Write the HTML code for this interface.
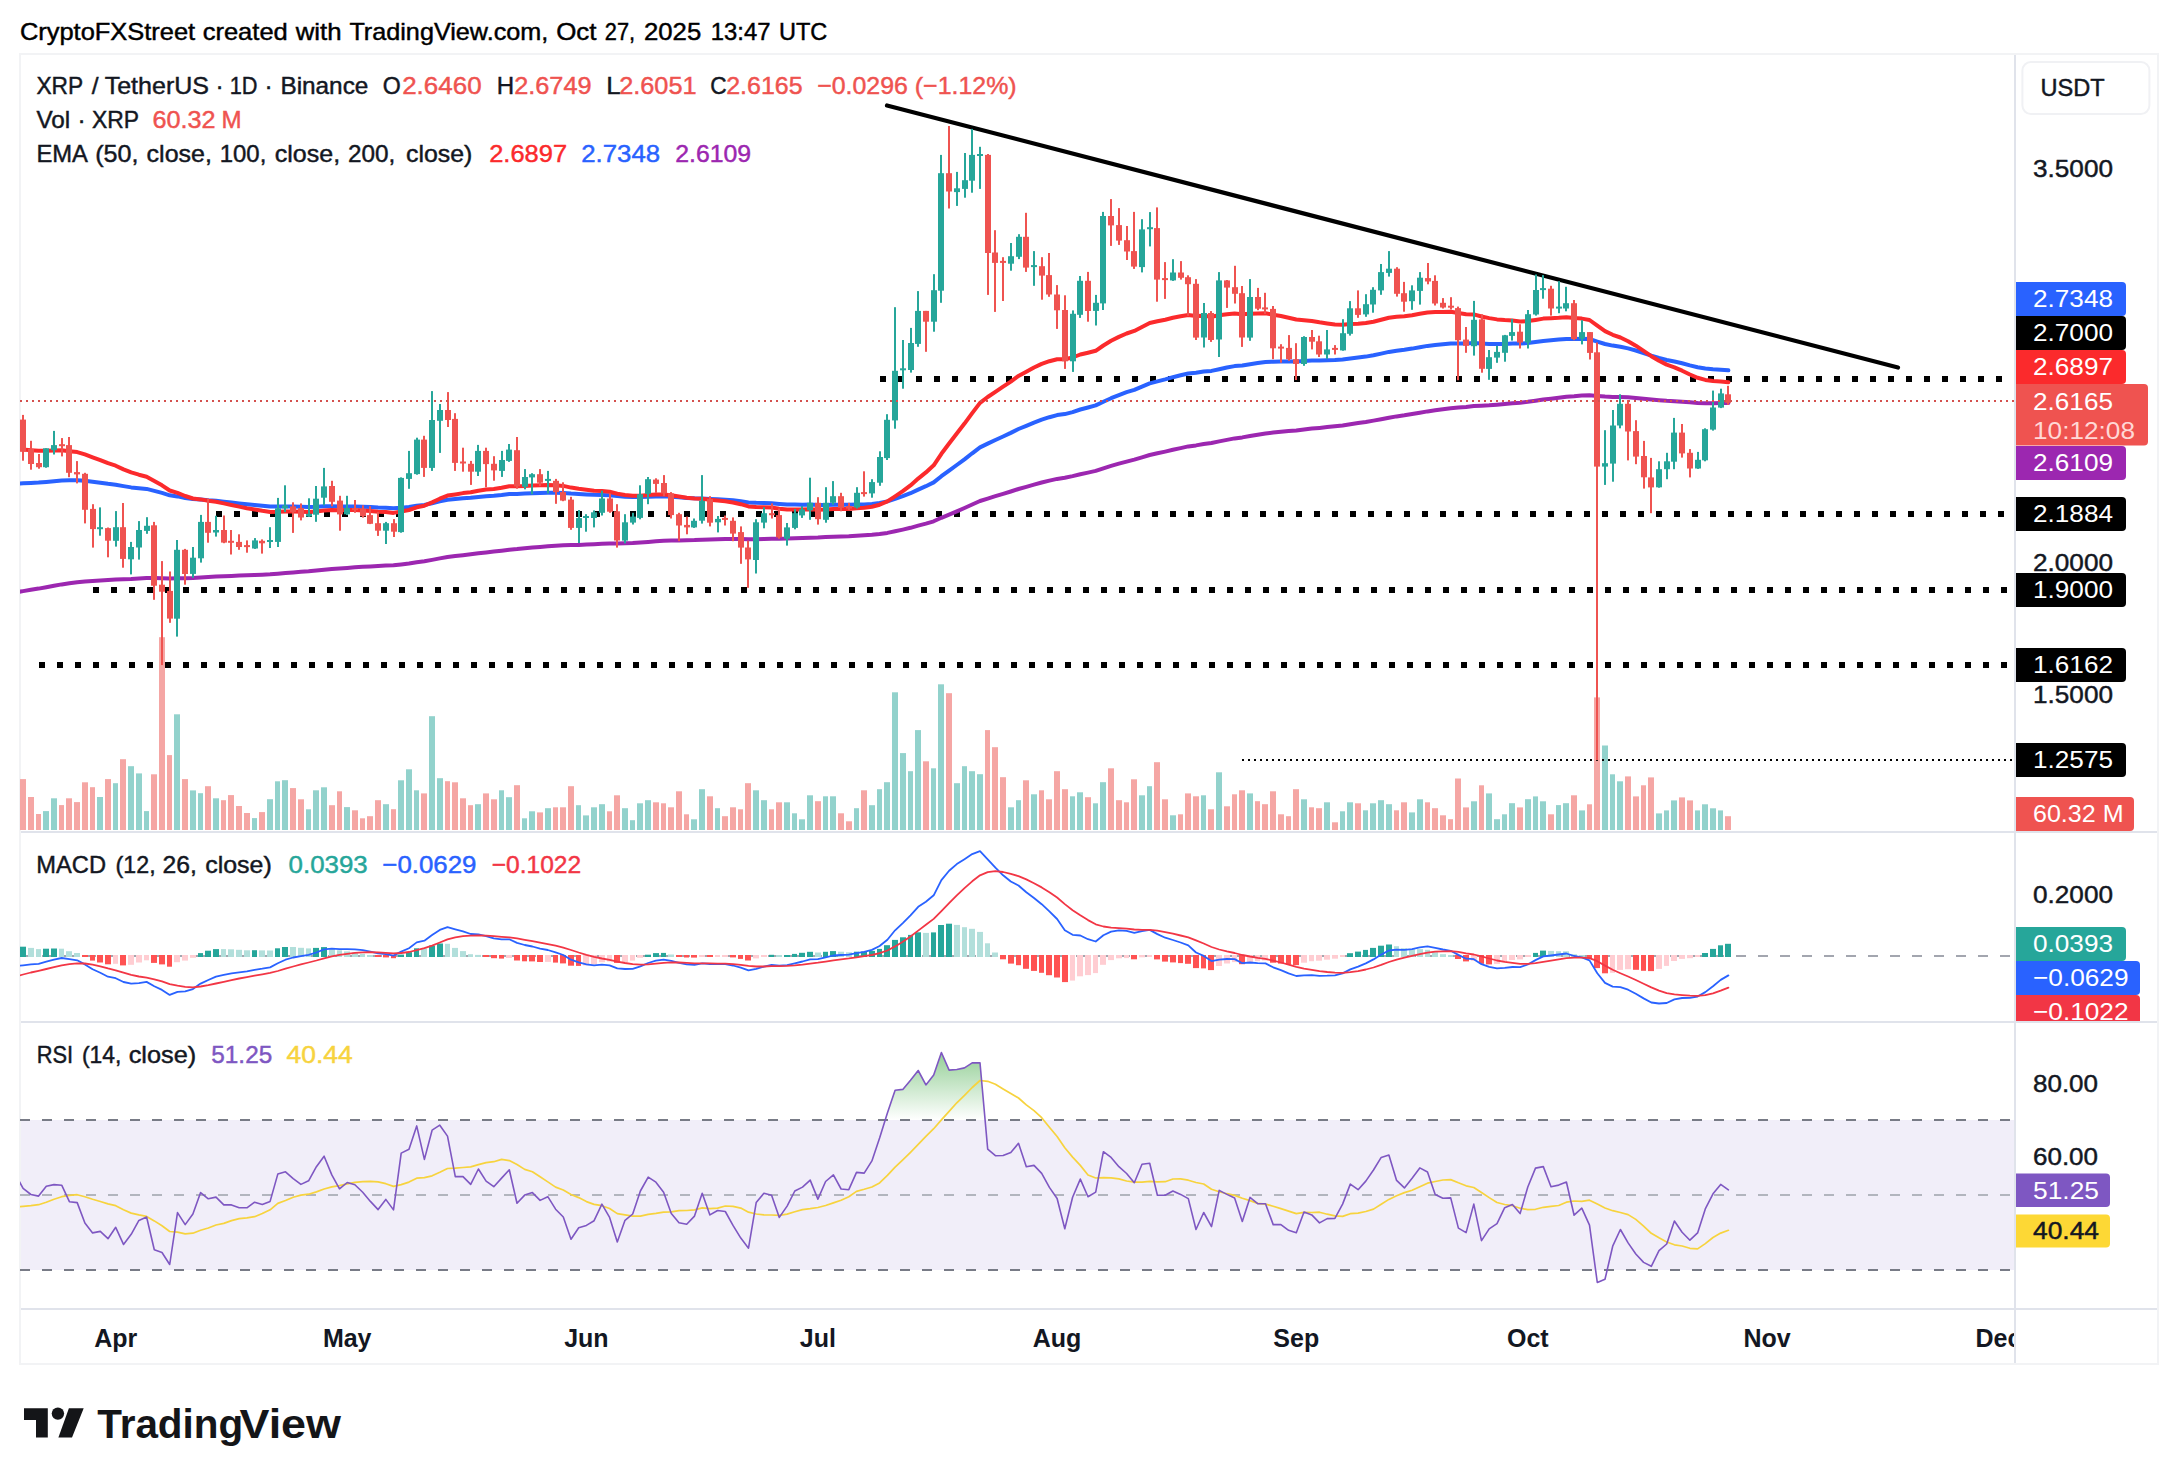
<!DOCTYPE html>
<html><head><meta charset="utf-8"><title>XRP / TetherUS chart</title>
<style>html,body{margin:0;padding:0;background:#fff;}body{width:2178px;height:1484px;overflow:hidden;font-family:'Liberation Sans', sans-serif;}</style>
</head><body>
<svg width="2178" height="1484" viewBox="0 0 2178 1484" font-family="'Liberation Sans', sans-serif" style="display:block"><rect x="0" y="0" width="2178" height="1484" fill="#fff"/>
<defs>
<clipPath id="cm"><rect x="20" y="55" width="1994" height="776"/></clipPath>
<clipPath id="cmacd"><rect x="20" y="833" width="1994" height="188"/></clipPath>
<clipPath id="crsi"><rect x="20" y="1023" width="1994" height="285"/></clipPath>
<clipPath id="ctime"><rect x="21" y="1310" width="1993" height="53"/></clipPath>
<clipPath id="cax2"><rect x="2015" y="833" width="143" height="188"/></clipPath>
<clipPath id="c70"><rect x="21" y="1023" width="1993" height="97"/></clipPath>
<linearGradient id="gob" gradientUnits="userSpaceOnUse" x1="0" y1="1007.5" x2="0" y2="1120"><stop offset="0" stop-color="#4caf50" stop-opacity="1"/><stop offset="1" stop-color="#4caf50" stop-opacity="0"/></linearGradient>
</defs>
<rect x="20" y="54" width="2138" height="1310" fill="none" stroke="#f2f3f5" stroke-width="2"/>
<rect x="21" y="1120" width="1993" height="150" fill="#f1eef9"/>
<g clip-path="url(#cm)">
<rect x="20" y="779.1" width="6" height="50.9" fill="#f5a6a4"/>
<rect x="28" y="797.0" width="6" height="33.0" fill="#f5a6a4"/>
<rect x="36" y="814.0" width="5" height="16.0" fill="#f5a6a4"/>
<rect x="43" y="811.1" width="6" height="18.9" fill="#92d2cc"/>
<rect x="51" y="798.3" width="6" height="31.7" fill="#92d2cc"/>
<rect x="59" y="805.1" width="5" height="24.9" fill="#f5a6a4"/>
<rect x="66" y="798.3" width="6" height="31.7" fill="#f5a6a4"/>
<rect x="74" y="802.1" width="6" height="27.9" fill="#f5a6a4"/>
<rect x="82" y="782.3" width="6" height="47.7" fill="#f5a6a4"/>
<rect x="90" y="787.2" width="5" height="42.8" fill="#f5a6a4"/>
<rect x="97" y="797.0" width="6" height="33.0" fill="#92d2cc"/>
<rect x="105" y="779.1" width="6" height="50.9" fill="#f5a6a4"/>
<rect x="113" y="783.2" width="5" height="46.8" fill="#92d2cc"/>
<rect x="120" y="759.2" width="6" height="70.8" fill="#f5a6a4"/>
<rect x="128" y="766.2" width="6" height="63.8" fill="#92d2cc"/>
<rect x="136" y="773.4" width="6" height="56.6" fill="#92d2cc"/>
<rect x="144" y="811.1" width="5" height="18.9" fill="#92d2cc"/>
<rect x="151" y="774.3" width="6" height="55.7" fill="#f5a6a4"/>
<rect x="159" y="637.2" width="6" height="192.8" fill="#f5a6a4"/>
<rect x="167" y="755.1" width="5" height="74.9" fill="#f5a6a4"/>
<rect x="174" y="714.3" width="6" height="115.7" fill="#92d2cc"/>
<rect x="182" y="779.1" width="6" height="50.9" fill="#f5a6a4"/>
<rect x="190" y="790.4" width="6" height="39.6" fill="#92d2cc"/>
<rect x="198" y="793.2" width="5" height="36.8" fill="#92d2cc"/>
<rect x="205" y="786.2" width="6" height="43.8" fill="#f5a6a4"/>
<rect x="213" y="798.3" width="6" height="31.7" fill="#92d2cc"/>
<rect x="221" y="800.2" width="5" height="29.8" fill="#f5a6a4"/>
<rect x="228" y="795.1" width="6" height="34.9" fill="#f5a6a4"/>
<rect x="236" y="806.0" width="6" height="24.0" fill="#f5a6a4"/>
<rect x="244" y="813.0" width="6" height="17.0" fill="#f5a6a4"/>
<rect x="252" y="818.1" width="5" height="11.9" fill="#92d2cc"/>
<rect x="259" y="812.1" width="6" height="17.9" fill="#f5a6a4"/>
<rect x="267" y="799.2" width="6" height="30.8" fill="#92d2cc"/>
<rect x="275" y="781.3" width="5" height="48.7" fill="#92d2cc"/>
<rect x="282" y="780.2" width="6" height="49.8" fill="#92d2cc"/>
<rect x="290" y="788.1" width="6" height="41.9" fill="#f5a6a4"/>
<rect x="298" y="799.3" width="6" height="30.7" fill="#f5a6a4"/>
<rect x="306" y="809.3" width="5" height="20.7" fill="#92d2cc"/>
<rect x="313" y="790.3" width="6" height="39.7" fill="#92d2cc"/>
<rect x="321" y="787.3" width="6" height="42.7" fill="#92d2cc"/>
<rect x="329" y="805.2" width="6" height="24.8" fill="#f5a6a4"/>
<rect x="337" y="791.3" width="5" height="38.7" fill="#f5a6a4"/>
<rect x="344" y="807.1" width="6" height="22.9" fill="#92d2cc"/>
<rect x="352" y="810.3" width="6" height="19.7" fill="#f5a6a4"/>
<rect x="360" y="818.3" width="5" height="11.7" fill="#f5a6a4"/>
<rect x="367" y="816.2" width="6" height="13.8" fill="#f5a6a4"/>
<rect x="375" y="800.2" width="6" height="29.8" fill="#f5a6a4"/>
<rect x="383" y="804.2" width="6" height="25.8" fill="#92d2cc"/>
<rect x="391" y="809.2" width="5" height="20.8" fill="#f5a6a4"/>
<rect x="398" y="780.3" width="6" height="49.7" fill="#92d2cc"/>
<rect x="406" y="769.3" width="6" height="60.7" fill="#92d2cc"/>
<rect x="414" y="790.3" width="5" height="39.7" fill="#92d2cc"/>
<rect x="421" y="793.4" width="6" height="36.6" fill="#f5a6a4"/>
<rect x="429" y="716.2" width="6" height="113.8" fill="#92d2cc"/>
<rect x="437" y="778.2" width="6" height="51.8" fill="#92d2cc"/>
<rect x="445" y="781.2" width="5" height="48.8" fill="#f5a6a4"/>
<rect x="452" y="782.3" width="6" height="47.7" fill="#f5a6a4"/>
<rect x="460" y="798.3" width="6" height="31.7" fill="#f5a6a4"/>
<rect x="468" y="805.2" width="5" height="24.8" fill="#f5a6a4"/>
<rect x="475" y="804.2" width="6" height="25.8" fill="#92d2cc"/>
<rect x="483" y="793.4" width="6" height="36.6" fill="#f5a6a4"/>
<rect x="491" y="799.3" width="6" height="30.7" fill="#f5a6a4"/>
<rect x="499" y="790.3" width="5" height="39.7" fill="#92d2cc"/>
<rect x="506" y="797.2" width="6" height="32.8" fill="#92d2cc"/>
<rect x="514" y="785.2" width="6" height="44.8" fill="#f5a6a4"/>
<rect x="522" y="818.3" width="5" height="11.7" fill="#92d2cc"/>
<rect x="529" y="811.3" width="6" height="18.7" fill="#92d2cc"/>
<rect x="537" y="812.4" width="6" height="17.6" fill="#f5a6a4"/>
<rect x="545" y="808.2" width="6" height="21.8" fill="#92d2cc"/>
<rect x="553" y="807.3" width="5" height="22.7" fill="#f5a6a4"/>
<rect x="560" y="807.3" width="6" height="22.7" fill="#f5a6a4"/>
<rect x="568" y="786.2" width="6" height="43.8" fill="#f5a6a4"/>
<rect x="576" y="805.2" width="5" height="24.8" fill="#92d2cc"/>
<rect x="583" y="815.4" width="6" height="14.6" fill="#92d2cc"/>
<rect x="591" y="807.3" width="6" height="22.7" fill="#92d2cc"/>
<rect x="599" y="804.2" width="6" height="25.8" fill="#92d2cc"/>
<rect x="607" y="811.3" width="5" height="18.7" fill="#f5a6a4"/>
<rect x="614" y="795.3" width="6" height="34.7" fill="#f5a6a4"/>
<rect x="622" y="808.2" width="6" height="21.8" fill="#92d2cc"/>
<rect x="630" y="820.2" width="5" height="9.8" fill="#92d2cc"/>
<rect x="637" y="803.3" width="6" height="26.7" fill="#92d2cc"/>
<rect x="645" y="800.2" width="6" height="29.8" fill="#92d2cc"/>
<rect x="653" y="802.3" width="6" height="27.7" fill="#f5a6a4"/>
<rect x="661" y="803.3" width="5" height="26.7" fill="#f5a6a4"/>
<rect x="668" y="807.3" width="6" height="22.7" fill="#f5a6a4"/>
<rect x="676" y="791.3" width="6" height="38.7" fill="#f5a6a4"/>
<rect x="684" y="814.3" width="5" height="15.7" fill="#f5a6a4"/>
<rect x="691" y="819.3" width="6" height="10.7" fill="#92d2cc"/>
<rect x="699" y="789.2" width="6" height="40.8" fill="#92d2cc"/>
<rect x="707" y="796.3" width="6" height="33.7" fill="#f5a6a4"/>
<rect x="715" y="808.2" width="5" height="21.8" fill="#92d2cc"/>
<rect x="722" y="816.2" width="6" height="13.8" fill="#f5a6a4"/>
<rect x="730" y="807.3" width="6" height="22.7" fill="#f5a6a4"/>
<rect x="738" y="809.3" width="5" height="20.7" fill="#f5a6a4"/>
<rect x="745" y="783.2" width="6" height="46.8" fill="#f5a6a4"/>
<rect x="753" y="790.3" width="6" height="39.7" fill="#92d2cc"/>
<rect x="761" y="800.2" width="6" height="29.8" fill="#92d2cc"/>
<rect x="769" y="809.3" width="5" height="20.7" fill="#f5a6a4"/>
<rect x="776" y="802.3" width="6" height="27.7" fill="#f5a6a4"/>
<rect x="784" y="802.3" width="6" height="27.7" fill="#92d2cc"/>
<rect x="792" y="813.3" width="5" height="16.7" fill="#92d2cc"/>
<rect x="799" y="819.3" width="6" height="10.7" fill="#92d2cc"/>
<rect x="807" y="795.3" width="6" height="34.7" fill="#92d2cc"/>
<rect x="815" y="801.2" width="6" height="28.8" fill="#f5a6a4"/>
<rect x="823" y="796.3" width="5" height="33.7" fill="#92d2cc"/>
<rect x="830" y="796.3" width="6" height="33.7" fill="#92d2cc"/>
<rect x="838" y="813.3" width="6" height="16.7" fill="#f5a6a4"/>
<rect x="846" y="821.3" width="6" height="8.7" fill="#f5a6a4"/>
<rect x="854" y="808.2" width="5" height="21.8" fill="#92d2cc"/>
<rect x="861" y="790.3" width="6" height="39.7" fill="#f5a6a4"/>
<rect x="869" y="805.2" width="6" height="24.8" fill="#92d2cc"/>
<rect x="877" y="789.2" width="5" height="40.8" fill="#92d2cc"/>
<rect x="884" y="782.2" width="6" height="47.8" fill="#92d2cc"/>
<rect x="892" y="692.3" width="6" height="137.7" fill="#92d2cc"/>
<rect x="900" y="753.1" width="6" height="76.9" fill="#92d2cc"/>
<rect x="908" y="771.2" width="5" height="58.8" fill="#92d2cc"/>
<rect x="915" y="730.1" width="6" height="99.9" fill="#92d2cc"/>
<rect x="923" y="761.3" width="6" height="68.7" fill="#f5a6a4"/>
<rect x="931" y="768.3" width="5" height="61.7" fill="#92d2cc"/>
<rect x="938" y="684.3" width="6" height="145.7" fill="#92d2cc"/>
<rect x="946" y="693.2" width="6" height="136.8" fill="#f5a6a4"/>
<rect x="954" y="783.2" width="6" height="46.8" fill="#92d2cc"/>
<rect x="962" y="766.2" width="5" height="63.8" fill="#92d2cc"/>
<rect x="969" y="771.2" width="6" height="58.8" fill="#92d2cc"/>
<rect x="977" y="774.2" width="6" height="55.8" fill="#92d2cc"/>
<rect x="985" y="730.1" width="5" height="99.9" fill="#f5a6a4"/>
<rect x="992" y="747.2" width="6" height="82.8" fill="#f5a6a4"/>
<rect x="1000" y="777.2" width="6" height="52.8" fill="#f5a6a4"/>
<rect x="1008" y="807.3" width="6" height="22.7" fill="#92d2cc"/>
<rect x="1016" y="800.2" width="5" height="29.8" fill="#92d2cc"/>
<rect x="1023" y="780.3" width="6" height="49.7" fill="#f5a6a4"/>
<rect x="1031" y="794.3" width="6" height="35.7" fill="#92d2cc"/>
<rect x="1039" y="790.3" width="5" height="39.7" fill="#f5a6a4"/>
<rect x="1046" y="799.3" width="6" height="30.7" fill="#f5a6a4"/>
<rect x="1054" y="771.2" width="6" height="58.8" fill="#f5a6a4"/>
<rect x="1062" y="789.2" width="6" height="40.8" fill="#f5a6a4"/>
<rect x="1070" y="796.3" width="5" height="33.7" fill="#92d2cc"/>
<rect x="1077" y="792.3" width="6" height="37.7" fill="#92d2cc"/>
<rect x="1085" y="797.2" width="6" height="32.8" fill="#f5a6a4"/>
<rect x="1093" y="803.3" width="5" height="26.7" fill="#92d2cc"/>
<rect x="1100" y="782.2" width="6" height="47.8" fill="#92d2cc"/>
<rect x="1108" y="768.3" width="6" height="61.7" fill="#f5a6a4"/>
<rect x="1116" y="800.2" width="6" height="29.8" fill="#f5a6a4"/>
<rect x="1124" y="802.3" width="5" height="27.7" fill="#f5a6a4"/>
<rect x="1131" y="779.3" width="6" height="50.7" fill="#f5a6a4"/>
<rect x="1139" y="795.3" width="6" height="34.7" fill="#92d2cc"/>
<rect x="1147" y="786.2" width="5" height="43.8" fill="#92d2cc"/>
<rect x="1154" y="762.2" width="6" height="67.8" fill="#f5a6a4"/>
<rect x="1162" y="799.3" width="6" height="30.7" fill="#f5a6a4"/>
<rect x="1170" y="815.3" width="6" height="14.7" fill="#92d2cc"/>
<rect x="1178" y="814.3" width="5" height="15.7" fill="#f5a6a4"/>
<rect x="1185" y="793.4" width="6" height="36.6" fill="#f5a6a4"/>
<rect x="1193" y="796.3" width="6" height="33.7" fill="#f5a6a4"/>
<rect x="1201" y="795.3" width="5" height="34.7" fill="#92d2cc"/>
<rect x="1208" y="809.3" width="6" height="20.7" fill="#f5a6a4"/>
<rect x="1216" y="772.3" width="6" height="57.7" fill="#92d2cc"/>
<rect x="1224" y="806.3" width="6" height="23.7" fill="#f5a6a4"/>
<rect x="1232" y="794.3" width="5" height="35.7" fill="#f5a6a4"/>
<rect x="1239" y="790.3" width="6" height="39.7" fill="#f5a6a4"/>
<rect x="1247" y="793.4" width="6" height="36.6" fill="#92d2cc"/>
<rect x="1255" y="801.2" width="5" height="28.8" fill="#f5a6a4"/>
<rect x="1262" y="804.2" width="6" height="25.8" fill="#f5a6a4"/>
<rect x="1270" y="791.3" width="6" height="38.7" fill="#f5a6a4"/>
<rect x="1278" y="814.3" width="6" height="15.7" fill="#f5a6a4"/>
<rect x="1286" y="816.2" width="5" height="13.8" fill="#f5a6a4"/>
<rect x="1293" y="789.2" width="6" height="40.8" fill="#f5a6a4"/>
<rect x="1301" y="799.3" width="6" height="30.7" fill="#92d2cc"/>
<rect x="1309" y="807.3" width="5" height="22.7" fill="#f5a6a4"/>
<rect x="1316" y="808.2" width="6" height="21.8" fill="#f5a6a4"/>
<rect x="1324" y="802.3" width="6" height="27.7" fill="#92d2cc"/>
<rect x="1332" y="822.3" width="6" height="7.7" fill="#f5a6a4"/>
<rect x="1340" y="811.3" width="5" height="18.7" fill="#92d2cc"/>
<rect x="1347" y="802.3" width="6" height="27.7" fill="#92d2cc"/>
<rect x="1355" y="803.3" width="6" height="26.7" fill="#f5a6a4"/>
<rect x="1363" y="810.3" width="5" height="19.7" fill="#92d2cc"/>
<rect x="1370" y="803.3" width="6" height="26.7" fill="#92d2cc"/>
<rect x="1378" y="800.2" width="6" height="29.8" fill="#92d2cc"/>
<rect x="1386" y="804.2" width="6" height="25.8" fill="#92d2cc"/>
<rect x="1394" y="810.3" width="5" height="19.7" fill="#f5a6a4"/>
<rect x="1401" y="802.3" width="6" height="27.7" fill="#f5a6a4"/>
<rect x="1409" y="812.4" width="6" height="17.6" fill="#92d2cc"/>
<rect x="1417" y="799.3" width="6" height="30.7" fill="#92d2cc"/>
<rect x="1425" y="802.3" width="5" height="27.7" fill="#f5a6a4"/>
<rect x="1432" y="808.2" width="6" height="21.8" fill="#f5a6a4"/>
<rect x="1440" y="815.3" width="6" height="14.7" fill="#f5a6a4"/>
<rect x="1448" y="819.2" width="5" height="10.8" fill="#f5a6a4"/>
<rect x="1455" y="778.5" width="6" height="51.5" fill="#f5a6a4"/>
<rect x="1463" y="807.4" width="6" height="22.6" fill="#f5a6a4"/>
<rect x="1471" y="801.3" width="6" height="28.7" fill="#92d2cc"/>
<rect x="1479" y="785.3" width="5" height="44.7" fill="#f5a6a4"/>
<rect x="1486" y="793.4" width="6" height="36.6" fill="#92d2cc"/>
<rect x="1494" y="819.2" width="6" height="10.8" fill="#92d2cc"/>
<rect x="1502" y="814.3" width="5" height="15.7" fill="#92d2cc"/>
<rect x="1509" y="803.2" width="6" height="26.8" fill="#92d2cc"/>
<rect x="1517" y="807.4" width="6" height="22.6" fill="#f5a6a4"/>
<rect x="1525" y="799.2" width="6" height="30.8" fill="#92d2cc"/>
<rect x="1533" y="796.4" width="5" height="33.6" fill="#92d2cc"/>
<rect x="1540" y="801.3" width="6" height="28.7" fill="#92d2cc"/>
<rect x="1548" y="814.3" width="6" height="15.7" fill="#f5a6a4"/>
<rect x="1556" y="805.1" width="5" height="24.9" fill="#92d2cc"/>
<rect x="1563" y="803.2" width="6" height="26.8" fill="#92d2cc"/>
<rect x="1571" y="795.3" width="6" height="34.7" fill="#f5a6a4"/>
<rect x="1579" y="810.4" width="6" height="19.6" fill="#92d2cc"/>
<rect x="1587" y="804.3" width="5" height="25.7" fill="#f5a6a4"/>
<rect x="1594" y="697.4" width="6" height="132.6" fill="#f5a6a4"/>
<rect x="1602" y="745.5" width="6" height="84.5" fill="#92d2cc"/>
<rect x="1610" y="774.3" width="5" height="55.7" fill="#92d2cc"/>
<rect x="1617" y="781.3" width="6" height="48.7" fill="#92d2cc"/>
<rect x="1625" y="776.4" width="6" height="53.6" fill="#f5a6a4"/>
<rect x="1633" y="796.4" width="6" height="33.6" fill="#f5a6a4"/>
<rect x="1641" y="785.3" width="5" height="44.7" fill="#f5a6a4"/>
<rect x="1648" y="777.4" width="6" height="52.6" fill="#f5a6a4"/>
<rect x="1656" y="813.4" width="6" height="16.6" fill="#92d2cc"/>
<rect x="1664" y="810.4" width="5" height="19.6" fill="#92d2cc"/>
<rect x="1671" y="800.4" width="6" height="29.6" fill="#92d2cc"/>
<rect x="1679" y="797.4" width="6" height="32.6" fill="#f5a6a4"/>
<rect x="1687" y="800.4" width="6" height="29.6" fill="#f5a6a4"/>
<rect x="1695" y="810.4" width="5" height="19.6" fill="#92d2cc"/>
<rect x="1702" y="804.3" width="6" height="25.7" fill="#92d2cc"/>
<rect x="1710" y="808.3" width="6" height="21.7" fill="#92d2cc"/>
<rect x="1718" y="810.4" width="5" height="19.6" fill="#92d2cc"/>
<rect x="1725" y="816.2" width="6" height="13.8" fill="#f5a6a4"/>
<line x1="880" y1="379" x2="2008" y2="379" stroke="#000" stroke-width="6" stroke-dasharray="6 12"/>
<line x1="216" y1="514" x2="2008" y2="514" stroke="#000" stroke-width="6" stroke-dasharray="6 12"/>
<line x1="93" y1="590" x2="2008" y2="590" stroke="#000" stroke-width="6" stroke-dasharray="6 12"/>
<line x1="39" y1="665" x2="2008" y2="665" stroke="#000" stroke-width="6" stroke-dasharray="6 12"/>
<line x1="1242" y1="760" x2="2015" y2="760" stroke="#000" stroke-width="2" stroke-dasharray="2 4"/>
<line x1="887" y1="105.5" x2="1898" y2="367.5" stroke="#000" stroke-width="4.2" stroke-linecap="round"/>
<polyline points="15.4,592.4 23.1,591.1 30.9,589.8 38.6,588.6 46.3,587.2 54.0,585.8 61.7,584.4 69.4,583.3 77.2,582.2 84.9,581.5 92.6,581.0 100.3,580.4 108.0,580.0 115.7,579.5 123.5,579.3 131.2,579.0 138.9,578.5 146.6,578.0 154.3,578.1 162.0,578.2 169.7,578.6 177.5,578.3 185.2,578.3 192.9,578.1 200.6,577.5 208.3,577.1 216.0,576.6 223.8,576.3 231.5,575.9 239.2,575.6 246.9,575.3 254.6,575.0 262.3,574.7 270.1,574.3 277.8,573.7 285.5,573.0 293.2,572.4 300.9,571.8 308.6,571.3 316.4,570.5 324.1,569.7 331.8,569.0 339.5,568.5 347.2,567.9 354.9,567.3 362.7,566.8 370.4,566.4 378.1,566.0 385.8,565.6 393.5,565.3 401.2,564.4 409.0,563.5 416.7,562.3 424.4,561.3 432.1,559.9 439.8,558.4 447.5,557.0 455.3,556.1 463.0,555.2 470.7,554.3 478.4,553.3 486.1,552.4 493.8,551.6 501.6,550.7 509.3,549.7 517.0,549.1 524.7,548.3 532.4,547.6 540.1,547.0 547.8,546.3 555.6,545.7 563.3,545.3 571.0,545.1 578.7,544.9 586.4,544.6 594.1,544.2 601.9,543.8 609.6,543.5 617.3,543.4 625.0,543.2 632.7,543.0 640.4,542.5 648.2,541.9 655.9,541.3 663.6,540.8 671.3,540.5 679.0,540.4 686.7,540.3 694.5,540.1 702.2,539.7 709.9,539.5 717.6,539.3 725.3,539.1 733.0,539.1 740.8,539.1 748.5,539.3 756.2,539.2 763.9,538.9 771.6,538.7 779.3,538.7 787.1,538.6 794.8,538.3 802.5,538.0 810.2,537.7 817.9,537.5 825.6,537.1 833.4,536.7 841.1,536.4 848.8,536.2 856.5,535.7 864.2,535.3 871.9,534.8 879.6,534.0 887.4,532.9 895.1,531.3 902.8,529.6 910.5,527.8 918.2,525.6 925.9,523.6 933.7,521.3 941.4,517.8 949.1,514.6 956.8,511.3 964.5,508.0 972.2,504.5 980.0,501.0 987.7,498.6 995.4,496.2 1003.1,493.9 1010.8,491.5 1018.5,489.0 1026.3,486.8 1034.0,484.6 1041.7,482.5 1049.4,480.6 1057.1,478.9 1064.8,477.8 1072.6,476.1 1080.3,474.2 1088.0,472.6 1095.7,470.9 1103.4,468.3 1111.1,465.9 1118.9,463.7 1126.6,461.6 1134.3,459.6 1142.0,457.3 1149.7,455.0 1157.4,453.3 1165.2,451.6 1172.9,449.8 1180.6,448.1 1188.3,446.4 1196.0,445.4 1203.7,444.0 1211.5,443.0 1219.2,441.4 1226.9,439.9 1234.6,438.4 1242.3,437.4 1250.0,436.0 1257.7,434.7 1265.5,433.5 1273.2,432.6 1280.9,431.8 1288.6,431.1 1296.3,430.4 1304.0,429.5 1311.8,428.6 1319.5,427.9 1327.2,427.1 1334.9,426.3 1342.6,425.4 1350.3,424.2 1358.1,423.1 1365.8,422.0 1373.5,420.6 1381.2,419.2 1388.9,417.7 1396.6,416.4 1404.4,415.3 1412.1,414.0 1419.8,412.7 1427.5,411.4 1435.2,410.3 1442.9,409.3 1450.7,408.3 1458.4,407.6 1466.1,407.0 1473.8,406.1 1481.5,405.7 1489.2,405.3 1497.0,404.7 1504.7,404.0 1512.4,403.3 1520.1,402.7 1527.8,401.8 1535.5,400.7 1543.3,399.6 1551.0,398.7 1558.7,397.8 1566.4,396.8 1574.1,396.3 1581.8,395.6 1589.5,395.2 1597.3,395.9 1605.0,396.6 1612.7,396.9 1620.4,396.9 1628.1,397.3 1635.8,397.9 1643.6,398.7 1651.3,399.5 1659.0,400.2 1666.7,400.8 1674.4,401.2 1682.1,401.7 1689.9,402.3 1697.6,402.9 1705.3,403.2 1713.0,403.2 1720.7,403.1 1728.4,403.1" fill="none" stroke="#9c27b0" stroke-width="4" stroke-linejoin="round" stroke-linecap="round"/>
<polyline points="15.4,483.7 23.1,483.3 30.9,482.9 38.6,482.6 46.3,481.9 54.0,481.2 61.7,480.5 69.4,480.3 77.2,480.2 84.9,480.8 92.6,481.8 100.3,482.7 108.0,483.8 115.7,484.7 123.5,486.1 131.2,487.4 138.9,488.2 146.6,488.9 154.3,490.9 162.0,492.9 169.7,495.3 177.5,496.4 185.2,498.0 192.9,499.1 200.6,499.6 208.3,500.3 216.0,500.8 223.8,501.7 231.5,502.5 239.2,503.4 246.9,504.2 254.6,504.9 262.3,505.7 270.1,506.4 277.8,506.4 285.5,506.4 293.2,506.5 300.9,506.7 308.6,506.9 316.4,506.7 324.1,506.3 331.8,506.2 339.5,506.4 347.2,506.4 354.9,506.5 362.7,506.7 370.4,507.0 378.1,507.5 385.8,507.8 393.5,508.3 401.2,507.7 409.0,507.0 416.7,505.7 424.4,504.9 432.1,503.2 439.8,501.4 447.5,499.8 455.3,499.0 463.0,498.3 470.7,497.8 478.4,496.9 486.1,496.2 493.8,495.7 501.6,495.0 509.3,494.1 517.0,493.9 524.7,493.6 532.4,493.2 540.1,493.0 547.8,492.7 555.6,492.7 563.3,492.9 571.0,493.6 578.7,494.1 586.4,494.5 594.1,494.8 601.9,494.9 609.6,495.2 617.3,496.1 625.0,496.7 632.7,497.1 640.4,497.0 648.2,496.7 655.9,496.4 663.6,496.3 671.3,496.7 679.0,497.3 686.7,497.9 694.5,498.3 702.2,498.4 709.9,498.9 717.6,499.3 725.3,499.7 733.0,500.3 740.8,501.3 748.5,502.4 756.2,502.8 763.9,503.0 771.6,503.3 779.3,503.9 787.1,504.4 794.8,504.6 802.5,504.7 810.2,504.6 817.9,504.9 825.6,504.9 833.4,504.7 841.1,504.8 848.8,504.8 856.5,504.6 864.2,504.4 871.9,503.9 879.6,503.0 887.4,501.4 895.1,498.8 902.8,496.2 910.5,493.2 918.2,489.6 925.9,486.2 933.7,482.4 941.4,476.2 949.1,470.6 956.8,465.0 964.5,459.4 972.2,453.3 980.0,447.4 987.7,443.6 995.4,440.0 1003.1,436.5 1010.8,432.9 1018.5,429.0 1026.3,425.8 1034.0,422.6 1041.7,419.7 1049.4,417.2 1057.1,415.1 1064.8,414.1 1072.6,412.1 1080.3,409.5 1088.0,407.5 1095.7,405.4 1103.4,401.7 1111.1,398.2 1118.9,395.1 1126.6,392.2 1134.3,389.8 1142.0,386.6 1149.7,383.4 1157.4,381.4 1165.2,379.4 1172.9,377.2 1180.6,375.3 1188.3,373.5 1196.0,372.8 1203.7,371.6 1211.5,370.9 1219.2,369.2 1226.9,367.5 1234.6,366.1 1242.3,365.5 1250.0,364.2 1257.7,363.1 1265.5,362.0 1273.2,361.7 1280.9,361.4 1288.6,361.4 1296.3,361.5 1304.0,361.0 1311.8,360.6 1319.5,360.5 1327.2,360.2 1334.9,360.0 1342.6,359.5 1350.3,358.5 1358.1,357.6 1365.8,356.6 1373.5,355.2 1381.2,353.6 1388.9,351.9 1396.6,350.8 1404.4,349.8 1412.1,348.6 1419.8,347.2 1427.5,345.9 1435.2,345.1 1442.9,344.3 1450.7,343.6 1458.4,343.5 1466.1,343.6 1473.8,343.1 1481.5,343.6 1489.2,343.9 1497.0,344.0 1504.7,343.9 1512.4,343.6 1520.1,343.6 1527.8,343.0 1535.5,342.0 1543.3,340.9 1551.0,340.3 1558.7,339.6 1566.4,338.9 1574.1,338.9 1581.8,338.7 1589.5,339.0 1597.3,341.6 1605.0,344.0 1612.7,345.6 1620.4,346.7 1628.1,348.4 1635.8,350.5 1643.6,353.1 1651.3,355.7 1659.0,358.0 1666.7,360.0 1674.4,361.5 1682.1,363.3 1689.9,365.4 1697.6,367.2 1705.3,368.5 1713.0,369.2 1720.7,369.7 1728.4,370.3" fill="none" stroke="#2962ff" stroke-width="4" stroke-linejoin="round" stroke-linecap="round"/>
<polyline points="15.4,449.0 23.1,449.6 30.9,450.2 38.6,450.8 46.3,450.7 54.0,450.5 61.7,450.3 69.4,451.2 77.2,452.1 84.9,454.4 92.6,457.3 100.3,460.1 108.0,463.2 115.7,465.7 123.5,469.4 131.2,472.4 138.9,474.7 146.6,476.7 154.3,481.0 162.0,485.3 169.7,490.5 177.5,492.9 185.2,496.0 192.9,498.5 200.6,499.4 208.3,500.7 216.0,501.8 223.8,503.4 231.5,505.0 239.2,506.6 246.9,508.2 254.6,509.5 262.3,510.8 270.1,511.9 277.8,511.8 285.5,511.5 293.2,511.6 300.9,511.8 308.6,511.9 316.4,511.4 324.1,510.4 331.8,510.0 339.5,510.2 347.2,510.1 354.9,510.1 362.7,510.4 370.4,510.9 378.1,511.7 385.8,512.1 393.5,512.9 401.2,511.5 409.0,510.0 416.7,507.3 424.4,505.7 432.1,502.4 439.8,498.7 447.5,495.6 455.3,494.4 463.0,493.1 470.7,492.3 478.4,490.7 486.1,489.6 493.8,488.9 501.6,487.7 509.3,486.2 517.0,486.2 524.7,485.9 532.4,485.4 540.1,485.3 547.8,485.1 555.6,485.3 563.3,485.9 571.0,487.6 578.7,488.8 586.4,489.8 594.1,490.7 601.9,491.0 609.6,491.8 617.3,493.8 625.0,494.9 632.7,495.7 640.4,495.7 648.2,495.0 655.9,494.6 663.6,494.5 671.3,495.3 679.0,496.5 686.7,497.7 694.5,498.6 702.2,498.7 709.9,499.7 717.6,500.4 725.3,501.2 733.0,502.5 740.8,504.2 748.5,506.4 756.2,507.0 763.9,507.3 771.6,507.6 779.3,508.7 787.1,509.5 794.8,509.6 802.5,509.6 810.2,509.3 817.9,509.7 825.6,509.5 833.4,508.9 841.1,508.9 848.8,508.9 856.5,508.2 864.2,507.7 871.9,506.7 879.6,504.7 887.4,501.4 895.1,496.3 902.8,491.2 910.5,485.4 918.2,478.6 925.9,472.4 933.7,465.3 941.4,453.8 949.1,443.5 956.8,433.5 964.5,423.6 972.2,413.1 980.0,402.9 987.7,397.0 995.4,391.8 1003.1,386.7 1010.8,381.6 1018.5,375.9 1026.3,371.7 1034.0,367.5 1041.7,363.9 1049.4,361.2 1057.1,359.2 1064.8,359.2 1072.6,357.5 1080.3,354.5 1088.0,352.7 1095.7,350.8 1103.4,345.5 1111.1,340.8 1118.9,336.9 1126.6,333.5 1134.3,330.9 1142.0,326.9 1149.7,323.0 1157.4,321.3 1165.2,319.7 1172.9,317.8 1180.6,316.2 1188.3,315.0 1196.0,315.9 1203.7,315.8 1211.5,316.7 1219.2,315.3 1226.9,314.2 1234.6,313.4 1242.3,314.3 1250.0,313.7 1257.7,313.5 1265.5,313.3 1273.2,314.7 1280.9,316.0 1288.6,317.7 1296.3,319.5 1304.0,320.2 1311.8,321.0 1319.5,322.3 1327.2,323.4 1334.9,324.4 1342.6,324.8 1350.3,324.1 1358.1,323.8 1365.8,323.0 1373.5,321.7 1381.2,319.7 1388.9,317.7 1396.6,316.8 1404.4,316.2 1412.1,315.2 1419.8,313.7 1427.5,312.5 1435.2,312.1 1442.9,311.9 1450.7,311.7 1458.4,312.9 1466.1,314.2 1473.8,314.4 1481.5,316.5 1489.2,318.1 1497.0,319.4 1504.7,320.1 1512.4,320.5 1520.1,321.4 1527.8,321.1 1535.5,319.9 1543.3,318.6 1551.0,318.2 1558.7,317.8 1566.4,317.2 1574.1,318.1 1581.8,318.6 1589.5,320.0 1597.3,325.7 1605.0,331.1 1612.7,334.8 1620.4,337.5 1628.1,341.2 1635.8,345.7 1643.6,350.9 1651.3,356.2 1659.0,360.7 1666.7,364.6 1674.4,367.3 1682.1,370.7 1689.9,374.5 1697.6,377.8 1705.3,379.9 1713.0,380.9 1720.7,381.4 1728.4,382.2" fill="none" stroke="#fb2a2c" stroke-width="4" stroke-linejoin="round" stroke-linecap="round"/>
<rect x="22" y="414.9" width="2" height="45.8" fill="#ef5350"/>
<rect x="20" y="419.6" width="6" height="32.1" fill="#ef5350"/>
<rect x="30" y="440.8" width="2" height="28.9" fill="#ef5350"/>
<rect x="28" y="448.9" width="6" height="15.1" fill="#ef5350"/>
<rect x="38" y="454.0" width="2" height="14.7" fill="#ef5350"/>
<rect x="36" y="463.0" width="6" height="4.2" fill="#ef5350"/>
<rect x="45" y="448.3" width="2" height="19.4" fill="#26a69a"/>
<rect x="43" y="448.3" width="6" height="18.9" fill="#26a69a"/>
<rect x="53" y="430.9" width="2" height="23.6" fill="#26a69a"/>
<rect x="51" y="445.1" width="6" height="5.1" fill="#26a69a"/>
<rect x="61" y="438.1" width="2" height="18.3" fill="#ef5350"/>
<rect x="59" y="444.2" width="6" height="2.0" fill="#ef5350"/>
<rect x="68" y="437.0" width="2" height="40.2" fill="#ef5350"/>
<rect x="66" y="445.1" width="6" height="27.7" fill="#ef5350"/>
<rect x="76" y="461.1" width="2" height="22.3" fill="#ef5350"/>
<rect x="74" y="472.1" width="6" height="2.3" fill="#ef5350"/>
<rect x="84" y="472.8" width="2" height="50.6" fill="#ef5350"/>
<rect x="82" y="473.8" width="6" height="36.0" fill="#ef5350"/>
<rect x="92" y="504.2" width="2" height="43.4" fill="#ef5350"/>
<rect x="90" y="508.9" width="6" height="20.2" fill="#ef5350"/>
<rect x="99" y="507.4" width="2" height="28.3" fill="#26a69a"/>
<rect x="97" y="527.2" width="6" height="2.0" fill="#26a69a"/>
<rect x="107" y="527.5" width="2" height="29.8" fill="#ef5350"/>
<rect x="105" y="528.1" width="6" height="12.6" fill="#ef5350"/>
<rect x="115" y="511.1" width="2" height="35.5" fill="#26a69a"/>
<rect x="113" y="527.2" width="6" height="13.6" fill="#26a69a"/>
<rect x="122" y="503.0" width="2" height="64.7" fill="#ef5350"/>
<rect x="120" y="527.2" width="6" height="31.7" fill="#ef5350"/>
<rect x="130" y="541.9" width="2" height="32.5" fill="#26a69a"/>
<rect x="128" y="547.0" width="6" height="12.3" fill="#26a69a"/>
<rect x="138" y="521.1" width="2" height="38.5" fill="#26a69a"/>
<rect x="136" y="530.0" width="6" height="17.5" fill="#26a69a"/>
<rect x="146" y="517.2" width="2" height="16.6" fill="#26a69a"/>
<rect x="144" y="525.8" width="6" height="5.1" fill="#26a69a"/>
<rect x="153" y="521.9" width="2" height="77.9" fill="#ef5350"/>
<rect x="151" y="525.3" width="6" height="60.4" fill="#ef5350"/>
<rect x="161" y="561.1" width="2" height="104.0" fill="#ef5350"/>
<rect x="159" y="584.7" width="6" height="7.0" fill="#ef5350"/>
<rect x="169" y="571.5" width="2" height="51.3" fill="#ef5350"/>
<rect x="167" y="590.9" width="6" height="27.7" fill="#ef5350"/>
<rect x="176" y="540.0" width="2" height="96.6" fill="#26a69a"/>
<rect x="174" y="549.8" width="6" height="68.9" fill="#26a69a"/>
<rect x="184" y="548.9" width="2" height="35.8" fill="#ef5350"/>
<rect x="182" y="549.8" width="6" height="24.2" fill="#ef5350"/>
<rect x="192" y="547.0" width="2" height="30.8" fill="#26a69a"/>
<rect x="190" y="557.7" width="6" height="16.2" fill="#26a69a"/>
<rect x="200" y="514.9" width="2" height="47.7" fill="#26a69a"/>
<rect x="198" y="521.9" width="6" height="36.4" fill="#26a69a"/>
<rect x="207" y="498.5" width="2" height="44.2" fill="#ef5350"/>
<rect x="205" y="521.9" width="6" height="10.9" fill="#ef5350"/>
<rect x="215" y="515.8" width="2" height="20.8" fill="#26a69a"/>
<rect x="213" y="530.0" width="6" height="2.5" fill="#26a69a"/>
<rect x="223" y="515.5" width="2" height="27.7" fill="#ef5350"/>
<rect x="221" y="530.0" width="6" height="12.6" fill="#ef5350"/>
<rect x="230" y="530.0" width="2" height="24.5" fill="#ef5350"/>
<rect x="228" y="540.8" width="6" height="2.0" fill="#ef5350"/>
<rect x="238" y="534.3" width="2" height="15.5" fill="#ef5350"/>
<rect x="236" y="541.9" width="6" height="5.1" fill="#ef5350"/>
<rect x="246" y="540.4" width="2" height="12.3" fill="#ef5350"/>
<rect x="244" y="545.1" width="6" height="2.0" fill="#ef5350"/>
<rect x="254" y="538.1" width="2" height="10.8" fill="#26a69a"/>
<rect x="252" y="540.4" width="6" height="8.1" fill="#26a69a"/>
<rect x="261" y="539.4" width="2" height="14.2" fill="#ef5350"/>
<rect x="259" y="540.8" width="6" height="2.5" fill="#ef5350"/>
<rect x="269" y="527.2" width="2" height="20.8" fill="#26a69a"/>
<rect x="267" y="540.0" width="6" height="2.0" fill="#26a69a"/>
<rect x="277" y="497.9" width="2" height="49.1" fill="#26a69a"/>
<rect x="275" y="508.3" width="6" height="33.6" fill="#26a69a"/>
<rect x="284" y="485.3" width="2" height="26.8" fill="#26a69a"/>
<rect x="282" y="505.5" width="6" height="2.8" fill="#26a69a"/>
<rect x="292" y="502.3" width="2" height="30.6" fill="#ef5350"/>
<rect x="290" y="506.4" width="6" height="5.7" fill="#ef5350"/>
<rect x="300" y="503.4" width="2" height="17.0" fill="#ef5350"/>
<rect x="298" y="508.1" width="6" height="9.4" fill="#ef5350"/>
<rect x="308" y="498.3" width="2" height="18.7" fill="#26a69a"/>
<rect x="306" y="513.8" width="6" height="2.8" fill="#26a69a"/>
<rect x="315" y="486.0" width="2" height="35.8" fill="#26a69a"/>
<rect x="313" y="498.7" width="6" height="16.0" fill="#26a69a"/>
<rect x="323" y="467.9" width="2" height="37.4" fill="#26a69a"/>
<rect x="321" y="486.4" width="6" height="11.3" fill="#26a69a"/>
<rect x="331" y="480.8" width="2" height="25.5" fill="#ef5350"/>
<rect x="329" y="486.0" width="6" height="15.8" fill="#ef5350"/>
<rect x="339" y="495.8" width="2" height="34.9" fill="#ef5350"/>
<rect x="337" y="500.6" width="6" height="13.8" fill="#ef5350"/>
<rect x="346" y="495.8" width="2" height="19.2" fill="#26a69a"/>
<rect x="344" y="508.1" width="6" height="6.2" fill="#26a69a"/>
<rect x="354" y="500.0" width="2" height="12.8" fill="#ef5350"/>
<rect x="352" y="508.1" width="6" height="2.0" fill="#ef5350"/>
<rect x="362" y="505.3" width="2" height="12.3" fill="#ef5350"/>
<rect x="360" y="509.1" width="6" height="7.2" fill="#ef5350"/>
<rect x="369" y="506.2" width="2" height="17.9" fill="#ef5350"/>
<rect x="367" y="515.1" width="6" height="8.7" fill="#ef5350"/>
<rect x="377" y="511.9" width="2" height="24.0" fill="#ef5350"/>
<rect x="375" y="523.2" width="6" height="7.5" fill="#ef5350"/>
<rect x="385" y="521.9" width="2" height="22.1" fill="#26a69a"/>
<rect x="383" y="523.2" width="6" height="7.5" fill="#26a69a"/>
<rect x="393" y="519.1" width="2" height="17.9" fill="#ef5350"/>
<rect x="391" y="523.2" width="6" height="8.5" fill="#ef5350"/>
<rect x="400" y="477.4" width="2" height="55.3" fill="#26a69a"/>
<rect x="398" y="477.9" width="6" height="54.2" fill="#26a69a"/>
<rect x="408" y="450.9" width="2" height="37.9" fill="#26a69a"/>
<rect x="406" y="473.2" width="6" height="5.7" fill="#26a69a"/>
<rect x="416" y="437.7" width="2" height="37.0" fill="#26a69a"/>
<rect x="414" y="439.6" width="6" height="34.5" fill="#26a69a"/>
<rect x="423" y="435.8" width="2" height="41.1" fill="#ef5350"/>
<rect x="421" y="439.6" width="6" height="28.3" fill="#ef5350"/>
<rect x="431" y="391.1" width="2" height="79.8" fill="#26a69a"/>
<rect x="429" y="420.0" width="6" height="47.9" fill="#26a69a"/>
<rect x="439" y="404.0" width="2" height="48.9" fill="#26a69a"/>
<rect x="437" y="410.0" width="6" height="10.8" fill="#26a69a"/>
<rect x="447" y="392.1" width="2" height="34.9" fill="#ef5350"/>
<rect x="445" y="410.0" width="6" height="10.0" fill="#ef5350"/>
<rect x="454" y="413.2" width="2" height="57.7" fill="#ef5350"/>
<rect x="452" y="418.9" width="6" height="44.0" fill="#ef5350"/>
<rect x="462" y="447.7" width="2" height="24.0" fill="#ef5350"/>
<rect x="460" y="461.5" width="6" height="2.0" fill="#ef5350"/>
<rect x="470" y="460.9" width="2" height="24.0" fill="#ef5350"/>
<rect x="468" y="463.8" width="6" height="7.9" fill="#ef5350"/>
<rect x="477" y="444.9" width="2" height="31.1" fill="#26a69a"/>
<rect x="475" y="450.9" width="6" height="20.8" fill="#26a69a"/>
<rect x="485" y="447.7" width="2" height="39.6" fill="#ef5350"/>
<rect x="483" y="450.9" width="6" height="13.2" fill="#ef5350"/>
<rect x="493" y="456.2" width="2" height="24.5" fill="#ef5350"/>
<rect x="491" y="463.8" width="6" height="6.6" fill="#ef5350"/>
<rect x="501" y="450.9" width="2" height="26.0" fill="#26a69a"/>
<rect x="499" y="460.0" width="6" height="10.9" fill="#26a69a"/>
<rect x="508" y="444.0" width="2" height="17.9" fill="#26a69a"/>
<rect x="506" y="449.6" width="6" height="11.3" fill="#26a69a"/>
<rect x="516" y="437.0" width="2" height="51.7" fill="#ef5350"/>
<rect x="514" y="450.2" width="6" height="36.2" fill="#ef5350"/>
<rect x="524" y="469.1" width="2" height="20.2" fill="#26a69a"/>
<rect x="522" y="477.0" width="6" height="9.8" fill="#26a69a"/>
<rect x="531" y="473.2" width="2" height="21.1" fill="#26a69a"/>
<rect x="529" y="474.2" width="6" height="3.2" fill="#26a69a"/>
<rect x="539" y="469.1" width="2" height="17.0" fill="#ef5350"/>
<rect x="537" y="474.2" width="6" height="8.5" fill="#ef5350"/>
<rect x="547" y="470.9" width="2" height="22.6" fill="#26a69a"/>
<rect x="545" y="478.9" width="6" height="2.0" fill="#26a69a"/>
<rect x="555" y="478.9" width="2" height="24.9" fill="#ef5350"/>
<rect x="553" y="480.8" width="6" height="11.3" fill="#ef5350"/>
<rect x="562" y="482.3" width="2" height="18.9" fill="#ef5350"/>
<rect x="560" y="492.1" width="6" height="8.5" fill="#ef5350"/>
<rect x="570" y="496.8" width="2" height="33.0" fill="#ef5350"/>
<rect x="568" y="499.6" width="6" height="28.3" fill="#ef5350"/>
<rect x="578" y="510.0" width="2" height="33.0" fill="#26a69a"/>
<rect x="576" y="518.1" width="6" height="9.8" fill="#26a69a"/>
<rect x="585" y="514.2" width="2" height="17.5" fill="#26a69a"/>
<rect x="583" y="516.0" width="6" height="2.0" fill="#26a69a"/>
<rect x="593" y="510.4" width="2" height="17.0" fill="#26a69a"/>
<rect x="591" y="512.3" width="6" height="5.7" fill="#26a69a"/>
<rect x="601" y="490.6" width="2" height="24.9" fill="#26a69a"/>
<rect x="599" y="498.5" width="6" height="14.3" fill="#26a69a"/>
<rect x="609" y="493.4" width="2" height="19.4" fill="#ef5350"/>
<rect x="607" y="498.5" width="6" height="13.2" fill="#ef5350"/>
<rect x="616" y="504.2" width="2" height="43.4" fill="#ef5350"/>
<rect x="614" y="511.3" width="6" height="29.2" fill="#ef5350"/>
<rect x="624" y="514.2" width="2" height="29.2" fill="#26a69a"/>
<rect x="622" y="522.3" width="6" height="18.3" fill="#26a69a"/>
<rect x="632" y="512.8" width="2" height="11.7" fill="#26a69a"/>
<rect x="630" y="516.6" width="6" height="6.0" fill="#26a69a"/>
<rect x="639" y="485.3" width="2" height="34.0" fill="#26a69a"/>
<rect x="637" y="494.3" width="6" height="23.6" fill="#26a69a"/>
<rect x="647" y="477.0" width="2" height="27.2" fill="#26a69a"/>
<rect x="645" y="479.2" width="6" height="14.7" fill="#26a69a"/>
<rect x="655" y="478.3" width="2" height="14.5" fill="#ef5350"/>
<rect x="653" y="479.6" width="6" height="4.3" fill="#ef5350"/>
<rect x="663" y="475.1" width="2" height="21.1" fill="#ef5350"/>
<rect x="661" y="483.0" width="6" height="10.4" fill="#ef5350"/>
<rect x="670" y="492.1" width="2" height="26.4" fill="#ef5350"/>
<rect x="668" y="493.4" width="6" height="21.7" fill="#ef5350"/>
<rect x="678" y="512.8" width="2" height="28.3" fill="#ef5350"/>
<rect x="676" y="514.2" width="6" height="11.3" fill="#ef5350"/>
<rect x="686" y="516.6" width="2" height="17.7" fill="#ef5350"/>
<rect x="684" y="524.9" width="6" height="2.5" fill="#ef5350"/>
<rect x="693" y="518.5" width="2" height="9.4" fill="#26a69a"/>
<rect x="691" y="520.8" width="6" height="6.6" fill="#26a69a"/>
<rect x="701" y="475.1" width="2" height="48.5" fill="#26a69a"/>
<rect x="699" y="500.9" width="6" height="19.8" fill="#26a69a"/>
<rect x="709" y="496.2" width="2" height="30.2" fill="#ef5350"/>
<rect x="707" y="499.1" width="6" height="23.6" fill="#ef5350"/>
<rect x="717" y="516.0" width="2" height="16.4" fill="#26a69a"/>
<rect x="715" y="518.9" width="6" height="3.4" fill="#26a69a"/>
<rect x="724" y="515.5" width="2" height="10.0" fill="#ef5350"/>
<rect x="722" y="517.9" width="6" height="2.0" fill="#ef5350"/>
<rect x="732" y="517.4" width="2" height="23.8" fill="#ef5350"/>
<rect x="730" y="520.8" width="6" height="12.8" fill="#ef5350"/>
<rect x="740" y="526.4" width="2" height="37.4" fill="#ef5350"/>
<rect x="738" y="532.1" width="6" height="15.5" fill="#ef5350"/>
<rect x="747" y="540.6" width="2" height="47.2" fill="#ef5350"/>
<rect x="745" y="547.5" width="6" height="11.9" fill="#ef5350"/>
<rect x="755" y="519.2" width="2" height="54.3" fill="#26a69a"/>
<rect x="753" y="522.3" width="6" height="37.7" fill="#26a69a"/>
<rect x="763" y="507.2" width="2" height="21.1" fill="#26a69a"/>
<rect x="761" y="513.2" width="6" height="9.4" fill="#26a69a"/>
<rect x="771" y="503.4" width="2" height="15.1" fill="#ef5350"/>
<rect x="769" y="513.2" width="6" height="2.0" fill="#ef5350"/>
<rect x="778" y="508.5" width="2" height="30.2" fill="#ef5350"/>
<rect x="776" y="515.1" width="6" height="22.3" fill="#ef5350"/>
<rect x="786" y="523.0" width="2" height="22.6" fill="#26a69a"/>
<rect x="784" y="527.4" width="6" height="11.3" fill="#26a69a"/>
<rect x="794" y="509.1" width="2" height="20.2" fill="#26a69a"/>
<rect x="792" y="513.2" width="6" height="14.7" fill="#26a69a"/>
<rect x="801" y="506.0" width="2" height="11.9" fill="#26a69a"/>
<rect x="799" y="509.4" width="6" height="6.0" fill="#26a69a"/>
<rect x="809" y="477.7" width="2" height="42.1" fill="#26a69a"/>
<rect x="807" y="502.8" width="6" height="7.5" fill="#26a69a"/>
<rect x="817" y="497.2" width="2" height="27.4" fill="#ef5350"/>
<rect x="815" y="502.8" width="6" height="16.4" fill="#ef5350"/>
<rect x="825" y="487.2" width="2" height="35.5" fill="#26a69a"/>
<rect x="823" y="502.8" width="6" height="17.0" fill="#26a69a"/>
<rect x="832" y="481.1" width="2" height="23.6" fill="#26a69a"/>
<rect x="830" y="496.2" width="6" height="6.6" fill="#26a69a"/>
<rect x="840" y="492.8" width="2" height="18.5" fill="#ef5350"/>
<rect x="838" y="496.2" width="6" height="11.7" fill="#ef5350"/>
<rect x="848" y="502.8" width="2" height="7.5" fill="#ef5350"/>
<rect x="846" y="506.0" width="6" height="2.5" fill="#ef5350"/>
<rect x="856" y="487.2" width="2" height="21.3" fill="#26a69a"/>
<rect x="854" y="492.8" width="6" height="14.7" fill="#26a69a"/>
<rect x="863" y="471.3" width="2" height="25.3" fill="#ef5350"/>
<rect x="861" y="492.1" width="6" height="2.0" fill="#ef5350"/>
<rect x="871" y="479.2" width="2" height="18.5" fill="#26a69a"/>
<rect x="869" y="482.1" width="6" height="11.3" fill="#26a69a"/>
<rect x="879" y="451.3" width="2" height="34.5" fill="#26a69a"/>
<rect x="877" y="457.0" width="6" height="25.7" fill="#26a69a"/>
<rect x="886" y="414.2" width="2" height="45.8" fill="#26a69a"/>
<rect x="884" y="419.8" width="6" height="38.3" fill="#26a69a"/>
<rect x="894" y="307.2" width="2" height="121.5" fill="#26a69a"/>
<rect x="892" y="370.8" width="6" height="49.6" fill="#26a69a"/>
<rect x="902" y="340.0" width="2" height="48.7" fill="#26a69a"/>
<rect x="900" y="368.3" width="6" height="2.0" fill="#26a69a"/>
<rect x="910" y="327.9" width="2" height="44.7" fill="#26a69a"/>
<rect x="908" y="343.0" width="6" height="27.0" fill="#26a69a"/>
<rect x="917" y="291.1" width="2" height="55.7" fill="#26a69a"/>
<rect x="915" y="310.9" width="6" height="33.0" fill="#26a69a"/>
<rect x="925" y="310.9" width="2" height="40.9" fill="#ef5350"/>
<rect x="923" y="310.9" width="6" height="10.8" fill="#ef5350"/>
<rect x="933" y="274.2" width="2" height="57.5" fill="#26a69a"/>
<rect x="931" y="290.2" width="6" height="31.5" fill="#26a69a"/>
<rect x="940" y="154.9" width="2" height="147.9" fill="#26a69a"/>
<rect x="938" y="173.2" width="6" height="117.5" fill="#26a69a"/>
<rect x="948" y="126.0" width="2" height="82.5" fill="#ef5350"/>
<rect x="946" y="173.2" width="6" height="18.3" fill="#ef5350"/>
<rect x="956" y="171.9" width="2" height="34.0" fill="#26a69a"/>
<rect x="954" y="188.3" width="6" height="3.8" fill="#26a69a"/>
<rect x="964" y="153.0" width="2" height="44.7" fill="#26a69a"/>
<rect x="962" y="180.2" width="6" height="8.7" fill="#26a69a"/>
<rect x="971" y="128.9" width="2" height="63.8" fill="#26a69a"/>
<rect x="969" y="154.9" width="6" height="25.8" fill="#26a69a"/>
<rect x="979" y="146.8" width="2" height="42.1" fill="#26a69a"/>
<rect x="977" y="154.0" width="6" height="2.0" fill="#26a69a"/>
<rect x="987" y="154.0" width="2" height="140.9" fill="#ef5350"/>
<rect x="985" y="154.9" width="6" height="98.1" fill="#ef5350"/>
<rect x="994" y="230.2" width="2" height="81.7" fill="#ef5350"/>
<rect x="992" y="252.5" width="6" height="10.4" fill="#ef5350"/>
<rect x="1002" y="257.2" width="2" height="43.8" fill="#ef5350"/>
<rect x="1000" y="260.9" width="6" height="2.0" fill="#ef5350"/>
<rect x="1010" y="243.0" width="2" height="27.7" fill="#26a69a"/>
<rect x="1008" y="256.2" width="6" height="7.5" fill="#26a69a"/>
<rect x="1018" y="234.2" width="2" height="24.9" fill="#26a69a"/>
<rect x="1016" y="236.8" width="6" height="20.0" fill="#26a69a"/>
<rect x="1025" y="212.8" width="2" height="59.1" fill="#ef5350"/>
<rect x="1023" y="236.8" width="6" height="30.8" fill="#ef5350"/>
<rect x="1033" y="251.1" width="2" height="34.7" fill="#26a69a"/>
<rect x="1031" y="265.1" width="6" height="2.0" fill="#26a69a"/>
<rect x="1041" y="257.2" width="2" height="42.5" fill="#ef5350"/>
<rect x="1039" y="266.2" width="6" height="9.4" fill="#ef5350"/>
<rect x="1048" y="253.0" width="2" height="43.8" fill="#ef5350"/>
<rect x="1046" y="275.1" width="6" height="19.4" fill="#ef5350"/>
<rect x="1056" y="285.1" width="2" height="43.8" fill="#ef5350"/>
<rect x="1054" y="294.5" width="6" height="15.8" fill="#ef5350"/>
<rect x="1064" y="295.3" width="2" height="73.6" fill="#ef5350"/>
<rect x="1062" y="310.0" width="6" height="51.3" fill="#ef5350"/>
<rect x="1072" y="310.4" width="2" height="61.5" fill="#26a69a"/>
<rect x="1070" y="313.8" width="6" height="47.5" fill="#26a69a"/>
<rect x="1079" y="276.0" width="2" height="41.9" fill="#26a69a"/>
<rect x="1077" y="280.8" width="6" height="34.0" fill="#26a69a"/>
<rect x="1087" y="271.9" width="2" height="49.8" fill="#ef5350"/>
<rect x="1085" y="280.8" width="6" height="30.2" fill="#ef5350"/>
<rect x="1095" y="294.9" width="2" height="30.6" fill="#26a69a"/>
<rect x="1093" y="302.8" width="6" height="8.1" fill="#26a69a"/>
<rect x="1102" y="211.9" width="2" height="98.1" fill="#26a69a"/>
<rect x="1100" y="216.0" width="6" height="87.4" fill="#26a69a"/>
<rect x="1110" y="199.1" width="2" height="46.8" fill="#ef5350"/>
<rect x="1108" y="216.0" width="6" height="9.4" fill="#ef5350"/>
<rect x="1118" y="208.1" width="2" height="36.8" fill="#ef5350"/>
<rect x="1116" y="225.1" width="6" height="15.5" fill="#ef5350"/>
<rect x="1126" y="226.0" width="2" height="34.0" fill="#ef5350"/>
<rect x="1124" y="240.2" width="6" height="11.3" fill="#ef5350"/>
<rect x="1133" y="211.9" width="2" height="57.0" fill="#ef5350"/>
<rect x="1131" y="251.1" width="6" height="15.5" fill="#ef5350"/>
<rect x="1141" y="219.2" width="2" height="53.2" fill="#26a69a"/>
<rect x="1139" y="229.4" width="6" height="37.7" fill="#26a69a"/>
<rect x="1149" y="212.1" width="2" height="34.3" fill="#26a69a"/>
<rect x="1147" y="227.2" width="6" height="2.0" fill="#26a69a"/>
<rect x="1156" y="207.4" width="2" height="94.3" fill="#ef5350"/>
<rect x="1154" y="228.1" width="6" height="51.5" fill="#ef5350"/>
<rect x="1164" y="262.1" width="2" height="36.8" fill="#ef5350"/>
<rect x="1162" y="278.1" width="6" height="2.0" fill="#ef5350"/>
<rect x="1172" y="259.2" width="2" height="21.7" fill="#26a69a"/>
<rect x="1170" y="272.5" width="6" height="7.9" fill="#26a69a"/>
<rect x="1180" y="261.1" width="2" height="18.5" fill="#ef5350"/>
<rect x="1178" y="272.5" width="6" height="5.3" fill="#ef5350"/>
<rect x="1187" y="275.3" width="2" height="40.6" fill="#ef5350"/>
<rect x="1185" y="277.2" width="6" height="7.0" fill="#ef5350"/>
<rect x="1195" y="279.1" width="2" height="60.9" fill="#ef5350"/>
<rect x="1193" y="283.8" width="6" height="53.8" fill="#ef5350"/>
<rect x="1203" y="303.0" width="2" height="44.5" fill="#26a69a"/>
<rect x="1201" y="313.0" width="6" height="24.5" fill="#26a69a"/>
<rect x="1210" y="311.1" width="2" height="30.8" fill="#ef5350"/>
<rect x="1208" y="313.0" width="6" height="27.0" fill="#ef5350"/>
<rect x="1218" y="272.1" width="2" height="84.9" fill="#26a69a"/>
<rect x="1216" y="280.4" width="6" height="59.1" fill="#26a69a"/>
<rect x="1226" y="280.0" width="2" height="27.9" fill="#ef5350"/>
<rect x="1224" y="280.4" width="6" height="7.2" fill="#ef5350"/>
<rect x="1234" y="265.8" width="2" height="37.7" fill="#ef5350"/>
<rect x="1232" y="287.2" width="6" height="6.6" fill="#ef5350"/>
<rect x="1241" y="286.0" width="2" height="60.9" fill="#ef5350"/>
<rect x="1239" y="293.2" width="6" height="44.3" fill="#ef5350"/>
<rect x="1249" y="279.1" width="2" height="61.7" fill="#26a69a"/>
<rect x="1247" y="297.0" width="6" height="40.6" fill="#26a69a"/>
<rect x="1257" y="287.9" width="2" height="22.3" fill="#ef5350"/>
<rect x="1255" y="297.0" width="6" height="11.7" fill="#ef5350"/>
<rect x="1264" y="292.8" width="2" height="21.1" fill="#ef5350"/>
<rect x="1262" y="307.4" width="6" height="2.0" fill="#ef5350"/>
<rect x="1272" y="306.0" width="2" height="53.2" fill="#ef5350"/>
<rect x="1270" y="308.9" width="6" height="39.4" fill="#ef5350"/>
<rect x="1280" y="344.2" width="2" height="18.5" fill="#ef5350"/>
<rect x="1278" y="346.6" width="6" height="2.0" fill="#ef5350"/>
<rect x="1288" y="335.1" width="2" height="25.7" fill="#ef5350"/>
<rect x="1286" y="347.9" width="6" height="11.3" fill="#ef5350"/>
<rect x="1295" y="343.2" width="2" height="36.8" fill="#ef5350"/>
<rect x="1293" y="359.2" width="6" height="4.7" fill="#ef5350"/>
<rect x="1303" y="336.2" width="2" height="29.6" fill="#26a69a"/>
<rect x="1301" y="337.0" width="6" height="27.0" fill="#26a69a"/>
<rect x="1311" y="330.0" width="2" height="19.4" fill="#ef5350"/>
<rect x="1309" y="337.0" width="6" height="4.7" fill="#ef5350"/>
<rect x="1318" y="335.7" width="2" height="21.3" fill="#ef5350"/>
<rect x="1316" y="341.3" width="6" height="13.2" fill="#ef5350"/>
<rect x="1326" y="330.0" width="2" height="28.9" fill="#26a69a"/>
<rect x="1324" y="349.4" width="6" height="5.1" fill="#26a69a"/>
<rect x="1334" y="345.1" width="2" height="9.4" fill="#ef5350"/>
<rect x="1332" y="347.9" width="6" height="2.0" fill="#ef5350"/>
<rect x="1342" y="319.2" width="2" height="31.5" fill="#26a69a"/>
<rect x="1340" y="333.2" width="6" height="17.2" fill="#26a69a"/>
<rect x="1349" y="301.1" width="2" height="34.5" fill="#26a69a"/>
<rect x="1347" y="308.3" width="6" height="25.5" fill="#26a69a"/>
<rect x="1357" y="290.4" width="2" height="27.4" fill="#ef5350"/>
<rect x="1355" y="308.3" width="6" height="6.6" fill="#ef5350"/>
<rect x="1365" y="294.2" width="2" height="22.6" fill="#26a69a"/>
<rect x="1363" y="304.2" width="6" height="10.2" fill="#26a69a"/>
<rect x="1372" y="287.2" width="2" height="25.5" fill="#26a69a"/>
<rect x="1370" y="289.8" width="6" height="14.7" fill="#26a69a"/>
<rect x="1380" y="264.0" width="2" height="30.8" fill="#26a69a"/>
<rect x="1378" y="272.1" width="6" height="18.3" fill="#26a69a"/>
<rect x="1388" y="251.1" width="2" height="25.5" fill="#26a69a"/>
<rect x="1386" y="268.7" width="6" height="4.2" fill="#26a69a"/>
<rect x="1396" y="267.2" width="2" height="29.4" fill="#ef5350"/>
<rect x="1394" y="268.7" width="6" height="25.1" fill="#ef5350"/>
<rect x="1403" y="281.9" width="2" height="29.8" fill="#ef5350"/>
<rect x="1401" y="293.2" width="6" height="8.5" fill="#ef5350"/>
<rect x="1411" y="285.3" width="2" height="24.5" fill="#26a69a"/>
<rect x="1409" y="290.4" width="6" height="10.8" fill="#26a69a"/>
<rect x="1419" y="272.1" width="2" height="32.5" fill="#26a69a"/>
<rect x="1417" y="277.7" width="6" height="13.2" fill="#26a69a"/>
<rect x="1427" y="263.0" width="2" height="21.3" fill="#ef5350"/>
<rect x="1425" y="278.1" width="6" height="3.4" fill="#ef5350"/>
<rect x="1434" y="275.3" width="2" height="30.2" fill="#ef5350"/>
<rect x="1432" y="280.9" width="6" height="22.6" fill="#ef5350"/>
<rect x="1442" y="298.1" width="2" height="10.4" fill="#ef5350"/>
<rect x="1440" y="302.8" width="6" height="4.7" fill="#ef5350"/>
<rect x="1450" y="297.2" width="2" height="12.3" fill="#ef5350"/>
<rect x="1448" y="305.7" width="6" height="2.0" fill="#ef5350"/>
<rect x="1457" y="306.6" width="2" height="73.6" fill="#ef5350"/>
<rect x="1455" y="308.1" width="6" height="32.1" fill="#ef5350"/>
<rect x="1465" y="327.0" width="2" height="25.8" fill="#ef5350"/>
<rect x="1463" y="339.6" width="6" height="6.2" fill="#ef5350"/>
<rect x="1473" y="300.9" width="2" height="54.7" fill="#26a69a"/>
<rect x="1471" y="319.8" width="6" height="26.4" fill="#26a69a"/>
<rect x="1481" y="314.2" width="2" height="58.5" fill="#ef5350"/>
<rect x="1479" y="319.4" width="6" height="49.4" fill="#ef5350"/>
<rect x="1488" y="350.0" width="2" height="29.8" fill="#26a69a"/>
<rect x="1486" y="357.2" width="6" height="11.7" fill="#26a69a"/>
<rect x="1496" y="345.8" width="2" height="17.0" fill="#26a69a"/>
<rect x="1494" y="351.9" width="6" height="5.7" fill="#26a69a"/>
<rect x="1504" y="334.9" width="2" height="26.8" fill="#26a69a"/>
<rect x="1502" y="335.3" width="6" height="17.5" fill="#26a69a"/>
<rect x="1511" y="318.9" width="2" height="21.7" fill="#26a69a"/>
<rect x="1509" y="332.1" width="6" height="3.8" fill="#26a69a"/>
<rect x="1519" y="324.2" width="2" height="24.3" fill="#ef5350"/>
<rect x="1517" y="331.7" width="6" height="10.8" fill="#ef5350"/>
<rect x="1527" y="310.0" width="2" height="38.5" fill="#26a69a"/>
<rect x="1525" y="314.2" width="6" height="28.3" fill="#26a69a"/>
<rect x="1535" y="274.5" width="2" height="41.1" fill="#26a69a"/>
<rect x="1533" y="290.0" width="6" height="24.5" fill="#26a69a"/>
<rect x="1542" y="275.1" width="2" height="23.6" fill="#26a69a"/>
<rect x="1540" y="288.1" width="6" height="2.0" fill="#26a69a"/>
<rect x="1550" y="285.8" width="2" height="29.8" fill="#ef5350"/>
<rect x="1548" y="288.7" width="6" height="19.8" fill="#ef5350"/>
<rect x="1558" y="281.1" width="2" height="32.1" fill="#26a69a"/>
<rect x="1556" y="306.6" width="6" height="2.0" fill="#26a69a"/>
<rect x="1565" y="286.8" width="2" height="24.5" fill="#26a69a"/>
<rect x="1563" y="303.2" width="6" height="5.3" fill="#26a69a"/>
<rect x="1573" y="300.0" width="2" height="40.2" fill="#ef5350"/>
<rect x="1571" y="303.2" width="6" height="35.8" fill="#ef5350"/>
<rect x="1581" y="320.2" width="2" height="24.2" fill="#26a69a"/>
<rect x="1579" y="332.1" width="6" height="6.6" fill="#26a69a"/>
<rect x="1589" y="332.1" width="2" height="27.4" fill="#ef5350"/>
<rect x="1587" y="332.1" width="6" height="20.8" fill="#ef5350"/>
<rect x="1596" y="342.5" width="2" height="417.7" fill="#ef5350"/>
<rect x="1594" y="352.3" width="6" height="114.3" fill="#ef5350"/>
<rect x="1604" y="430.2" width="2" height="54.7" fill="#26a69a"/>
<rect x="1602" y="463.2" width="6" height="3.4" fill="#26a69a"/>
<rect x="1612" y="410.0" width="2" height="71.7" fill="#26a69a"/>
<rect x="1610" y="425.5" width="6" height="38.1" fill="#26a69a"/>
<rect x="1619" y="394.3" width="2" height="34.0" fill="#26a69a"/>
<rect x="1617" y="403.8" width="6" height="21.7" fill="#26a69a"/>
<rect x="1627" y="400.0" width="2" height="60.4" fill="#ef5350"/>
<rect x="1625" y="403.8" width="6" height="27.7" fill="#ef5350"/>
<rect x="1635" y="420.2" width="2" height="44.0" fill="#ef5350"/>
<rect x="1633" y="431.1" width="6" height="25.5" fill="#ef5350"/>
<rect x="1643" y="440.9" width="2" height="47.7" fill="#ef5350"/>
<rect x="1641" y="456.0" width="6" height="21.3" fill="#ef5350"/>
<rect x="1650" y="457.9" width="2" height="55.3" fill="#ef5350"/>
<rect x="1648" y="477.4" width="6" height="10.0" fill="#ef5350"/>
<rect x="1658" y="461.3" width="2" height="26.4" fill="#26a69a"/>
<rect x="1656" y="469.2" width="6" height="18.1" fill="#26a69a"/>
<rect x="1666" y="452.8" width="2" height="26.4" fill="#26a69a"/>
<rect x="1664" y="461.3" width="6" height="7.9" fill="#26a69a"/>
<rect x="1673" y="417.9" width="2" height="51.3" fill="#26a69a"/>
<rect x="1671" y="432.6" width="6" height="29.1" fill="#26a69a"/>
<rect x="1681" y="424.0" width="2" height="33.6" fill="#ef5350"/>
<rect x="1679" y="432.6" width="6" height="20.8" fill="#ef5350"/>
<rect x="1689" y="449.1" width="2" height="28.3" fill="#ef5350"/>
<rect x="1687" y="452.8" width="6" height="15.7" fill="#ef5350"/>
<rect x="1697" y="451.9" width="2" height="17.0" fill="#26a69a"/>
<rect x="1695" y="459.8" width="6" height="8.7" fill="#26a69a"/>
<rect x="1704" y="428.3" width="2" height="33.0" fill="#26a69a"/>
<rect x="1702" y="429.2" width="6" height="31.1" fill="#26a69a"/>
<rect x="1712" y="390.6" width="2" height="40.0" fill="#26a69a"/>
<rect x="1710" y="407.5" width="6" height="22.1" fill="#26a69a"/>
<rect x="1720" y="388.7" width="2" height="19.4" fill="#26a69a"/>
<rect x="1718" y="393.4" width="6" height="14.2" fill="#26a69a"/>
<rect x="1727" y="385.8" width="2" height="18.9" fill="#ef5350"/>
<rect x="1725" y="394.3" width="6" height="8.5" fill="#ef5350"/>
<line x1="20" y1="401" x2="2015" y2="401" stroke="#d4504d" stroke-width="2" stroke-dasharray="2 4"/>
</g>
<g clip-path="url(#cmacd)">
<line x1="20" y1="956.0" x2="2015" y2="956.0" stroke="#a3a6af" stroke-width="2" stroke-dasharray="10 12"/>
<rect x="20" y="946.7" width="6" height="10.3" fill="#26a69a"/>
<rect x="28" y="947.9" width="6" height="9.1" fill="#b2dfdb"/>
<rect x="36" y="949.1" width="5" height="7.9" fill="#b2dfdb"/>
<rect x="43" y="948.7" width="6" height="8.3" fill="#26a69a"/>
<rect x="51" y="948.5" width="6" height="8.5" fill="#26a69a"/>
<rect x="59" y="948.7" width="5" height="8.3" fill="#b2dfdb"/>
<rect x="66" y="951.2" width="6" height="5.8" fill="#b2dfdb"/>
<rect x="74" y="953.0" width="6" height="4.0" fill="#b2dfdb"/>
<rect x="82" y="955.0" width="6" height="2.0" fill="#ff5252"/>
<rect x="90" y="955.0" width="5" height="5.6" fill="#ff5252"/>
<rect x="97" y="955.0" width="6" height="7.5" fill="#ff5252"/>
<rect x="105" y="955.0" width="6" height="9.3" fill="#ff5252"/>
<rect x="113" y="955.0" width="5" height="8.8" fill="#ffcdd2"/>
<rect x="120" y="955.0" width="6" height="10.4" fill="#ff5252"/>
<rect x="128" y="955.0" width="6" height="9.8" fill="#ffcdd2"/>
<rect x="136" y="955.0" width="6" height="7.5" fill="#ffcdd2"/>
<rect x="144" y="955.0" width="5" height="5.3" fill="#ffcdd2"/>
<rect x="151" y="955.0" width="6" height="7.9" fill="#ff5252"/>
<rect x="159" y="955.0" width="6" height="9.4" fill="#ff5252"/>
<rect x="167" y="955.0" width="5" height="11.7" fill="#ff5252"/>
<rect x="174" y="955.0" width="6" height="7.2" fill="#ffcdd2"/>
<rect x="182" y="955.0" width="6" height="5.6" fill="#ffcdd2"/>
<rect x="190" y="955.0" width="6" height="2.8" fill="#ffcdd2"/>
<rect x="198" y="953.1" width="5" height="3.9" fill="#26a69a"/>
<rect x="205" y="950.7" width="6" height="6.3" fill="#26a69a"/>
<rect x="213" y="949.1" width="6" height="7.9" fill="#26a69a"/>
<rect x="221" y="949.1" width="5" height="7.9" fill="#b2dfdb"/>
<rect x="228" y="949.3" width="6" height="7.7" fill="#b2dfdb"/>
<rect x="236" y="949.8" width="6" height="7.2" fill="#b2dfdb"/>
<rect x="244" y="950.3" width="6" height="6.7" fill="#b2dfdb"/>
<rect x="252" y="950.2" width="5" height="6.8" fill="#26a69a"/>
<rect x="259" y="950.4" width="6" height="6.6" fill="#b2dfdb"/>
<rect x="267" y="950.5" width="6" height="6.5" fill="#b2dfdb"/>
<rect x="275" y="948.3" width="5" height="8.7" fill="#26a69a"/>
<rect x="282" y="947.0" width="6" height="10.0" fill="#26a69a"/>
<rect x="290" y="947.0" width="6" height="10.0" fill="#b2dfdb"/>
<rect x="298" y="947.8" width="6" height="9.2" fill="#b2dfdb"/>
<rect x="306" y="948.4" width="5" height="8.6" fill="#b2dfdb"/>
<rect x="313" y="947.9" width="6" height="9.1" fill="#26a69a"/>
<rect x="321" y="947.1" width="6" height="9.9" fill="#26a69a"/>
<rect x="329" y="948.2" width="6" height="8.8" fill="#b2dfdb"/>
<rect x="337" y="950.3" width="5" height="6.7" fill="#b2dfdb"/>
<rect x="344" y="951.4" width="6" height="5.6" fill="#b2dfdb"/>
<rect x="352" y="952.5" width="6" height="4.5" fill="#b2dfdb"/>
<rect x="360" y="953.8" width="5" height="3.2" fill="#b2dfdb"/>
<rect x="367" y="955.0" width="6" height="2.0" fill="#b2dfdb"/>
<rect x="375" y="955.0" width="6" height="2.0" fill="#ff5252"/>
<rect x="383" y="955.0" width="6" height="2.4" fill="#ff5252"/>
<rect x="391" y="955.0" width="5" height="3.2" fill="#ff5252"/>
<rect x="398" y="954.6" width="6" height="2.4" fill="#26a69a"/>
<rect x="406" y="952.1" width="6" height="4.9" fill="#26a69a"/>
<rect x="414" y="948.3" width="5" height="8.7" fill="#26a69a"/>
<rect x="421" y="948.5" width="6" height="8.5" fill="#b2dfdb"/>
<rect x="429" y="945.5" width="6" height="11.5" fill="#26a69a"/>
<rect x="437" y="943.5" width="6" height="13.5" fill="#26a69a"/>
<rect x="445" y="943.8" width="5" height="13.2" fill="#b2dfdb"/>
<rect x="452" y="947.9" width="6" height="9.1" fill="#b2dfdb"/>
<rect x="460" y="951.1" width="6" height="5.9" fill="#b2dfdb"/>
<rect x="468" y="954.2" width="5" height="2.8" fill="#b2dfdb"/>
<rect x="475" y="954.9" width="6" height="2.1" fill="#b2dfdb"/>
<rect x="483" y="955.0" width="6" height="2.0" fill="#ff5252"/>
<rect x="491" y="955.0" width="6" height="3.2" fill="#ff5252"/>
<rect x="499" y="955.0" width="5" height="3.6" fill="#ff5252"/>
<rect x="506" y="955.0" width="6" height="3.0" fill="#ffcdd2"/>
<rect x="514" y="955.0" width="6" height="5.5" fill="#ff5252"/>
<rect x="522" y="955.0" width="5" height="6.3" fill="#ff5252"/>
<rect x="529" y="955.0" width="6" height="6.4" fill="#ff5252"/>
<rect x="537" y="955.0" width="6" height="7.0" fill="#ff5252"/>
<rect x="545" y="955.0" width="6" height="6.9" fill="#ffcdd2"/>
<rect x="553" y="955.0" width="5" height="7.6" fill="#ff5252"/>
<rect x="560" y="955.0" width="6" height="8.4" fill="#ff5252"/>
<rect x="568" y="955.0" width="6" height="10.7" fill="#ff5252"/>
<rect x="576" y="955.0" width="5" height="10.9" fill="#ff5252"/>
<rect x="583" y="955.0" width="6" height="10.4" fill="#ffcdd2"/>
<rect x="591" y="955.0" width="6" height="9.3" fill="#ffcdd2"/>
<rect x="599" y="955.0" width="6" height="7.2" fill="#ffcdd2"/>
<rect x="607" y="955.0" width="5" height="6.5" fill="#ffcdd2"/>
<rect x="614" y="955.0" width="6" height="7.9" fill="#ff5252"/>
<rect x="622" y="955.0" width="6" height="7.0" fill="#ffcdd2"/>
<rect x="630" y="955.0" width="5" height="5.6" fill="#ffcdd2"/>
<rect x="637" y="955.0" width="6" height="2.8" fill="#ffcdd2"/>
<rect x="645" y="954.7" width="6" height="2.3" fill="#26a69a"/>
<rect x="653" y="953.1" width="6" height="3.9" fill="#26a69a"/>
<rect x="661" y="952.9" width="5" height="4.1" fill="#26a69a"/>
<rect x="668" y="954.5" width="6" height="2.5" fill="#b2dfdb"/>
<rect x="676" y="955.0" width="6" height="2.0" fill="#ff5252"/>
<rect x="684" y="955.0" width="5" height="2.5" fill="#ff5252"/>
<rect x="691" y="955.0" width="6" height="2.6" fill="#ff5252"/>
<rect x="699" y="955.0" width="6" height="2.0" fill="#ffcdd2"/>
<rect x="707" y="955.0" width="6" height="2.0" fill="#ff5252"/>
<rect x="715" y="955.0" width="5" height="2.0" fill="#ffcdd2"/>
<rect x="722" y="955.0" width="6" height="2.0" fill="#ffcdd2"/>
<rect x="730" y="955.0" width="6" height="2.4" fill="#ff5252"/>
<rect x="738" y="955.0" width="5" height="3.9" fill="#ff5252"/>
<rect x="745" y="955.0" width="6" height="5.5" fill="#ff5252"/>
<rect x="753" y="955.0" width="6" height="3.4" fill="#ffcdd2"/>
<rect x="761" y="955.0" width="6" height="2.0" fill="#ffcdd2"/>
<rect x="769" y="954.8" width="5" height="2.2" fill="#26a69a"/>
<rect x="776" y="955.0" width="6" height="2.0" fill="#b2dfdb"/>
<rect x="784" y="955.0" width="6" height="2.0" fill="#26a69a"/>
<rect x="792" y="953.9" width="5" height="3.1" fill="#26a69a"/>
<rect x="799" y="952.8" width="6" height="4.2" fill="#26a69a"/>
<rect x="807" y="951.8" width="6" height="5.2" fill="#26a69a"/>
<rect x="815" y="952.5" width="6" height="4.5" fill="#b2dfdb"/>
<rect x="823" y="951.8" width="5" height="5.2" fill="#26a69a"/>
<rect x="830" y="951.1" width="6" height="5.9" fill="#26a69a"/>
<rect x="838" y="951.7" width="6" height="5.3" fill="#b2dfdb"/>
<rect x="846" y="952.3" width="6" height="4.7" fill="#b2dfdb"/>
<rect x="854" y="951.7" width="5" height="5.3" fill="#26a69a"/>
<rect x="861" y="951.6" width="6" height="5.4" fill="#26a69a"/>
<rect x="869" y="950.9" width="6" height="6.1" fill="#26a69a"/>
<rect x="877" y="948.9" width="5" height="8.1" fill="#26a69a"/>
<rect x="884" y="945.2" width="6" height="11.8" fill="#26a69a"/>
<rect x="892" y="939.9" width="6" height="17.1" fill="#26a69a"/>
<rect x="900" y="937.3" width="6" height="19.7" fill="#26a69a"/>
<rect x="908" y="934.9" width="5" height="22.1" fill="#26a69a"/>
<rect x="915" y="932.3" width="6" height="24.7" fill="#26a69a"/>
<rect x="923" y="932.9" width="6" height="24.1" fill="#b2dfdb"/>
<rect x="931" y="932.4" width="5" height="24.6" fill="#26a69a"/>
<rect x="938" y="925.0" width="6" height="32.0" fill="#26a69a"/>
<rect x="946" y="923.7" width="6" height="33.3" fill="#26a69a"/>
<rect x="954" y="924.9" width="6" height="32.1" fill="#b2dfdb"/>
<rect x="962" y="927.2" width="5" height="29.8" fill="#b2dfdb"/>
<rect x="969" y="928.8" width="6" height="28.2" fill="#b2dfdb"/>
<rect x="977" y="931.9" width="6" height="25.1" fill="#b2dfdb"/>
<rect x="985" y="943.3" width="5" height="13.7" fill="#b2dfdb"/>
<rect x="992" y="952.5" width="6" height="4.5" fill="#b2dfdb"/>
<rect x="1000" y="955.0" width="6" height="4.3" fill="#ff5252"/>
<rect x="1008" y="955.0" width="6" height="8.6" fill="#ff5252"/>
<rect x="1016" y="955.0" width="5" height="10.2" fill="#ff5252"/>
<rect x="1023" y="955.0" width="6" height="13.8" fill="#ff5252"/>
<rect x="1031" y="955.0" width="6" height="15.9" fill="#ff5252"/>
<rect x="1039" y="955.0" width="5" height="17.8" fill="#ff5252"/>
<rect x="1046" y="955.0" width="6" height="20.2" fill="#ff5252"/>
<rect x="1054" y="955.0" width="6" height="22.5" fill="#ff5252"/>
<rect x="1062" y="955.0" width="6" height="27.1" fill="#ff5252"/>
<rect x="1070" y="955.0" width="5" height="25.6" fill="#ffcdd2"/>
<rect x="1077" y="955.0" width="6" height="21.3" fill="#ffcdd2"/>
<rect x="1085" y="955.0" width="6" height="20.1" fill="#ffcdd2"/>
<rect x="1093" y="955.0" width="5" height="18.1" fill="#ffcdd2"/>
<rect x="1100" y="955.0" width="6" height="9.8" fill="#ffcdd2"/>
<rect x="1108" y="955.0" width="6" height="5.1" fill="#ffcdd2"/>
<rect x="1116" y="955.0" width="6" height="3.3" fill="#ffcdd2"/>
<rect x="1124" y="955.0" width="5" height="3.1" fill="#ffcdd2"/>
<rect x="1131" y="955.0" width="6" height="4.3" fill="#ff5252"/>
<rect x="1139" y="955.0" width="6" height="2.3" fill="#ffcdd2"/>
<rect x="1147" y="955.0" width="5" height="2.0" fill="#ffcdd2"/>
<rect x="1154" y="955.0" width="6" height="4.4" fill="#ff5252"/>
<rect x="1162" y="955.0" width="6" height="6.6" fill="#ff5252"/>
<rect x="1170" y="955.0" width="6" height="7.4" fill="#ff5252"/>
<rect x="1178" y="955.0" width="5" height="8.1" fill="#ff5252"/>
<rect x="1185" y="955.0" width="6" height="8.8" fill="#ff5252"/>
<rect x="1193" y="955.0" width="6" height="13.1" fill="#ff5252"/>
<rect x="1201" y="955.0" width="5" height="13.4" fill="#ff5252"/>
<rect x="1208" y="955.0" width="6" height="15.1" fill="#ff5252"/>
<rect x="1216" y="955.0" width="6" height="11.0" fill="#ffcdd2"/>
<rect x="1224" y="955.0" width="6" height="8.5" fill="#ffcdd2"/>
<rect x="1232" y="955.0" width="5" height="7.1" fill="#ffcdd2"/>
<rect x="1239" y="955.0" width="6" height="9.2" fill="#ff5252"/>
<rect x="1247" y="955.0" width="6" height="7.0" fill="#ffcdd2"/>
<rect x="1255" y="955.0" width="5" height="6.2" fill="#ffcdd2"/>
<rect x="1262" y="955.0" width="6" height="5.5" fill="#ffcdd2"/>
<rect x="1270" y="955.0" width="6" height="7.7" fill="#ff5252"/>
<rect x="1278" y="955.0" width="6" height="8.6" fill="#ff5252"/>
<rect x="1286" y="955.0" width="5" height="9.6" fill="#ff5252"/>
<rect x="1293" y="955.0" width="6" height="10.1" fill="#ff5252"/>
<rect x="1301" y="955.0" width="6" height="7.7" fill="#ffcdd2"/>
<rect x="1309" y="955.0" width="5" height="6.2" fill="#ffcdd2"/>
<rect x="1316" y="955.0" width="6" height="5.7" fill="#ffcdd2"/>
<rect x="1324" y="955.0" width="6" height="4.7" fill="#ffcdd2"/>
<rect x="1332" y="955.0" width="6" height="3.7" fill="#ffcdd2"/>
<rect x="1340" y="955.0" width="5" height="2.0" fill="#ffcdd2"/>
<rect x="1347" y="953.2" width="6" height="3.8" fill="#26a69a"/>
<rect x="1355" y="951.6" width="6" height="5.4" fill="#26a69a"/>
<rect x="1363" y="949.9" width="5" height="7.1" fill="#26a69a"/>
<rect x="1370" y="947.9" width="6" height="9.1" fill="#26a69a"/>
<rect x="1378" y="945.7" width="6" height="11.3" fill="#26a69a"/>
<rect x="1386" y="944.5" width="6" height="12.5" fill="#26a69a"/>
<rect x="1394" y="946.2" width="5" height="10.8" fill="#b2dfdb"/>
<rect x="1401" y="948.3" width="6" height="8.7" fill="#b2dfdb"/>
<rect x="1409" y="949.2" width="6" height="7.8" fill="#b2dfdb"/>
<rect x="1417" y="949.1" width="6" height="7.9" fill="#b2dfdb"/>
<rect x="1425" y="949.8" width="5" height="7.2" fill="#b2dfdb"/>
<rect x="1432" y="952.2" width="6" height="4.8" fill="#b2dfdb"/>
<rect x="1440" y="954.2" width="6" height="2.8" fill="#b2dfdb"/>
<rect x="1448" y="955.0" width="5" height="2.0" fill="#b2dfdb"/>
<rect x="1455" y="955.0" width="6" height="4.0" fill="#ff5252"/>
<rect x="1463" y="955.0" width="6" height="6.4" fill="#ff5252"/>
<rect x="1471" y="955.0" width="6" height="5.8" fill="#ffcdd2"/>
<rect x="1479" y="955.0" width="5" height="8.8" fill="#ff5252"/>
<rect x="1486" y="955.0" width="6" height="9.4" fill="#ff5252"/>
<rect x="1494" y="955.0" width="6" height="8.9" fill="#ffcdd2"/>
<rect x="1502" y="955.0" width="5" height="6.9" fill="#ffcdd2"/>
<rect x="1509" y="955.0" width="6" height="5.0" fill="#ffcdd2"/>
<rect x="1517" y="955.0" width="6" height="4.4" fill="#ffcdd2"/>
<rect x="1525" y="955.0" width="6" height="2.0" fill="#ffcdd2"/>
<rect x="1533" y="952.9" width="5" height="4.1" fill="#26a69a"/>
<rect x="1540" y="950.6" width="6" height="6.4" fill="#26a69a"/>
<rect x="1548" y="950.9" width="6" height="6.1" fill="#b2dfdb"/>
<rect x="1556" y="951.2" width="5" height="5.8" fill="#b2dfdb"/>
<rect x="1563" y="951.3" width="6" height="5.7" fill="#b2dfdb"/>
<rect x="1571" y="954.3" width="6" height="2.7" fill="#b2dfdb"/>
<rect x="1579" y="955.0" width="6" height="2.0" fill="#b2dfdb"/>
<rect x="1587" y="955.0" width="5" height="3.2" fill="#ff5252"/>
<rect x="1594" y="955.0" width="6" height="13.1" fill="#ff5252"/>
<rect x="1602" y="955.0" width="6" height="18.3" fill="#ff5252"/>
<rect x="1610" y="955.0" width="5" height="17.8" fill="#ffcdd2"/>
<rect x="1617" y="955.0" width="6" height="14.9" fill="#ffcdd2"/>
<rect x="1625" y="955.0" width="6" height="14.2" fill="#ffcdd2"/>
<rect x="1633" y="955.0" width="6" height="14.8" fill="#ff5252"/>
<rect x="1641" y="955.0" width="5" height="15.8" fill="#ff5252"/>
<rect x="1648" y="955.0" width="6" height="16.1" fill="#ff5252"/>
<rect x="1656" y="955.0" width="6" height="13.9" fill="#ffcdd2"/>
<rect x="1664" y="955.0" width="5" height="10.9" fill="#ffcdd2"/>
<rect x="1671" y="955.0" width="6" height="6.0" fill="#ffcdd2"/>
<rect x="1679" y="955.0" width="6" height="3.9" fill="#ffcdd2"/>
<rect x="1687" y="955.0" width="6" height="3.2" fill="#ffcdd2"/>
<rect x="1695" y="955.0" width="5" height="2.0" fill="#ffcdd2"/>
<rect x="1702" y="953.0" width="6" height="4.0" fill="#26a69a"/>
<rect x="1710" y="948.9" width="6" height="8.1" fill="#26a69a"/>
<rect x="1718" y="945.3" width="5" height="11.7" fill="#26a69a"/>
<rect x="1725" y="943.8" width="6" height="13.2" fill="#26a69a"/>
<polyline points="15.4,966.1 23.1,965.3 30.9,964.4 38.6,963.9 46.3,961.7 54.0,959.6 61.7,958.0 69.4,959.2 77.2,960.3 84.9,964.4 92.6,969.3 100.3,972.8 108.0,976.7 115.7,978.2 123.5,982.0 131.2,983.7 138.9,983.1 146.6,981.9 154.3,986.2 162.0,989.9 169.7,994.9 177.5,991.9 185.2,991.4 192.9,989.1 200.6,983.6 208.3,980.0 216.0,976.6 223.8,974.9 231.5,973.4 239.2,972.4 246.9,971.4 254.6,969.8 262.3,968.7 270.1,967.4 277.8,963.3 285.5,959.7 293.2,957.5 300.9,956.2 308.6,954.9 316.4,952.5 324.1,949.4 331.8,948.6 339.5,949.2 347.2,949.1 354.9,949.4 362.7,950.2 370.4,951.6 378.1,953.4 385.8,954.2 393.5,955.6 401.2,951.6 409.0,948.2 416.7,942.4 424.4,940.7 432.1,935.1 439.8,929.9 447.5,927.2 455.3,929.3 463.0,931.3 470.7,934.0 478.4,934.4 486.1,936.2 493.8,938.4 501.6,939.4 509.3,939.3 517.0,942.9 524.7,945.0 532.4,946.5 540.1,948.6 547.8,950.0 555.6,952.3 563.3,955.0 571.0,959.7 578.7,962.4 586.4,964.3 594.1,965.3 601.9,964.7 609.6,965.3 617.3,968.4 625.0,969.0 632.7,968.8 640.4,966.4 648.2,963.0 655.9,960.7 663.6,959.7 671.3,960.9 679.0,962.8 686.7,964.3 694.5,964.8 702.2,963.3 709.9,964.0 717.6,964.2 725.3,964.2 733.0,965.5 740.8,967.7 748.5,970.4 756.2,968.9 763.9,966.7 771.6,965.0 779.3,965.7 787.1,965.2 794.8,963.3 802.5,961.5 810.2,959.3 817.9,959.1 825.6,957.4 833.4,955.5 841.1,955.0 848.8,954.7 856.5,953.1 864.2,951.8 871.9,949.9 879.6,946.0 887.4,939.7 895.1,930.3 902.8,923.1 910.5,915.4 918.2,906.8 925.9,901.7 933.7,895.3 941.4,880.1 949.1,870.8 956.8,864.1 964.5,859.2 972.2,854.1 980.0,851.2 987.7,859.3 995.4,867.7 1003.1,875.3 1010.8,881.5 1018.5,885.5 1026.3,892.2 1034.0,898.0 1041.7,904.2 1049.4,911.4 1057.1,919.0 1064.8,930.2 1072.6,934.8 1080.3,935.5 1088.0,939.2 1095.7,941.5 1103.4,935.3 1111.1,931.6 1118.9,930.4 1126.6,930.8 1134.3,932.8 1142.0,931.1 1149.7,929.9 1157.4,934.1 1165.2,937.7 1172.9,940.0 1180.6,942.5 1188.3,945.3 1196.0,952.5 1203.7,955.9 1211.5,961.1 1219.2,959.6 1226.9,959.0 1234.6,959.1 1242.3,963.2 1250.0,962.5 1257.7,963.1 1265.5,963.4 1273.2,967.3 1280.9,970.2 1288.6,973.3 1296.3,976.0 1304.0,975.4 1311.8,975.1 1319.5,975.8 1327.2,975.7 1334.9,975.4 1342.6,973.4 1350.3,969.4 1358.1,966.7 1365.8,963.4 1373.5,959.4 1381.2,954.6 1388.9,950.5 1396.6,949.7 1404.4,949.9 1412.1,949.1 1419.8,947.4 1427.5,946.4 1435.2,947.9 1442.9,949.5 1450.7,950.8 1458.4,954.9 1466.1,958.7 1473.8,959.2 1481.5,964.2 1489.2,966.9 1497.0,968.3 1504.7,967.8 1512.4,967.0 1520.1,967.2 1527.8,964.5 1535.5,960.1 1543.3,956.4 1551.0,955.5 1558.7,954.5 1566.4,953.5 1574.1,956.0 1581.8,957.4 1589.5,960.4 1597.3,973.3 1605.0,982.9 1612.7,986.6 1620.4,987.1 1628.1,989.7 1635.8,993.8 1643.6,998.4 1651.3,1002.5 1659.0,1003.5 1666.7,1003.0 1674.4,999.4 1682.1,998.0 1689.9,997.9 1697.6,996.5 1705.3,992.1 1713.0,986.2 1720.7,979.9 1728.4,975.4" fill="none" stroke="#2962ff" stroke-width="1.8" stroke-linejoin="round" stroke-linecap="round"/>
<polyline points="15.4,976.6 23.1,974.5 30.9,972.5 38.6,970.8 46.3,969.0 54.0,967.1 61.7,965.3 69.4,964.1 77.2,963.3 84.9,963.5 92.6,964.7 100.3,966.3 108.0,968.4 115.7,970.3 123.5,972.7 131.2,974.9 138.9,976.5 146.6,977.6 154.3,979.3 162.0,981.4 169.7,984.1 177.5,985.7 185.2,986.8 192.9,987.3 200.6,986.5 208.3,985.2 216.0,983.5 223.8,981.8 231.5,980.1 239.2,978.5 246.9,977.1 254.6,975.7 262.3,974.3 270.1,972.9 277.8,971.0 285.5,968.7 293.2,966.5 300.9,964.4 308.6,962.5 316.4,960.5 324.1,958.3 331.8,956.4 339.5,954.9 347.2,953.8 354.9,952.9 362.7,952.3 370.4,952.2 378.1,952.4 385.8,952.8 393.5,953.3 401.2,953.0 409.0,952.0 416.7,950.1 424.4,948.2 432.1,945.6 439.8,942.5 447.5,939.4 455.3,937.4 463.0,936.2 470.7,935.7 478.4,935.5 486.1,935.6 493.8,936.2 501.6,936.8 509.3,937.3 517.0,938.4 524.7,939.8 532.4,941.1 540.1,942.6 547.8,944.1 555.6,945.7 563.3,947.6 571.0,950.0 578.7,952.5 586.4,954.8 594.1,956.9 601.9,958.5 609.6,959.8 617.3,961.6 625.0,963.0 632.7,964.2 640.4,964.6 648.2,964.3 655.9,963.6 663.6,962.8 671.3,962.4 679.0,962.5 686.7,962.9 694.5,963.3 702.2,963.3 709.9,963.4 717.6,963.6 725.3,963.7 733.0,964.1 740.8,964.8 748.5,965.9 756.2,966.5 763.9,966.5 771.6,966.2 779.3,966.1 787.1,965.9 794.8,965.4 802.5,964.6 810.2,963.6 817.9,962.7 825.6,961.6 833.4,960.4 841.1,959.3 848.8,958.4 856.5,957.3 864.2,956.2 871.9,955.0 879.6,953.2 887.4,950.5 895.1,946.4 902.8,941.8 910.5,936.5 918.2,930.6 925.9,924.8 933.7,918.9 941.4,911.1 949.1,903.1 956.8,895.3 964.5,888.1 972.2,881.3 980.0,875.3 987.7,872.1 995.4,871.2 1003.1,872.0 1010.8,873.9 1018.5,876.2 1026.3,879.4 1034.0,883.2 1041.7,887.4 1049.4,892.2 1057.1,897.5 1064.8,904.1 1072.6,910.2 1080.3,915.3 1088.0,920.1 1095.7,924.3 1103.4,926.5 1111.1,927.6 1118.9,928.1 1126.6,928.7 1134.3,929.5 1142.0,929.8 1149.7,929.8 1157.4,930.7 1165.2,932.1 1172.9,933.7 1180.6,935.5 1188.3,937.4 1196.0,940.4 1203.7,943.5 1211.5,947.0 1219.2,949.5 1226.9,951.4 1234.6,953.0 1242.3,955.0 1250.0,956.5 1257.7,957.8 1265.5,958.9 1273.2,960.6 1280.9,962.5 1288.6,964.7 1296.3,966.9 1304.0,968.6 1311.8,969.9 1319.5,971.1 1327.2,972.0 1334.9,972.7 1342.6,972.9 1350.3,972.2 1358.1,971.1 1365.8,969.5 1373.5,967.5 1381.2,964.9 1388.9,962.0 1396.6,959.6 1404.4,957.7 1412.1,955.9 1419.8,954.2 1427.5,952.7 1435.2,951.7 1442.9,951.3 1450.7,951.2 1458.4,951.9 1466.1,953.3 1473.8,954.5 1481.5,956.4 1489.2,958.5 1497.0,960.5 1504.7,961.9 1512.4,962.9 1520.1,963.8 1527.8,963.9 1535.5,963.2 1543.3,961.8 1551.0,960.6 1558.7,959.3 1566.4,958.2 1574.1,957.7 1581.8,957.7 1589.5,958.2 1597.3,961.2 1605.0,965.6 1612.7,969.8 1620.4,973.2 1628.1,976.5 1635.8,980.0 1643.6,983.7 1651.3,987.4 1659.0,990.7 1666.7,993.1 1674.4,994.4 1682.1,995.1 1689.9,995.7 1697.6,995.8 1705.3,995.1 1713.0,993.3 1720.7,990.6 1728.4,987.6" fill="none" stroke="#f23645" stroke-width="1.8" stroke-linejoin="round" stroke-linecap="round"/>
</g>
<g clip-path="url(#crsi)">
<line x1="20" y1="1120" x2="2015" y2="1120" stroke="#787b86" stroke-width="2" stroke-dasharray="10 12"/>
<line x1="20" y1="1195" x2="2015" y2="1195" stroke="#b2b5be" stroke-width="2" stroke-dasharray="10 12"/>
<line x1="20" y1="1270" x2="2015" y2="1270" stroke="#787b86" stroke-width="2" stroke-dasharray="10 12"/>
<polygon points="23.1,1120 23.1,1188.4 30.9,1194.5 38.6,1196.1 46.3,1186.3 54.0,1184.6 61.7,1185.2 69.4,1201.7 77.2,1202.6 84.9,1223.0 92.6,1232.9 100.3,1231.4 108.0,1238.7 115.7,1227.3 123.5,1244.4 131.2,1234.3 138.9,1220.4 146.6,1217.0 154.3,1249.8 162.0,1252.5 169.7,1264.5 177.5,1212.6 185.2,1224.6 192.9,1214.0 200.6,1192.6 208.3,1198.8 216.0,1197.1 223.8,1204.9 231.5,1204.9 239.2,1207.8 246.9,1207.8 254.6,1202.2 262.3,1204.5 270.1,1201.4 277.8,1174.1 285.5,1171.8 293.2,1178.7 300.9,1184.4 308.6,1180.8 316.4,1166.7 324.1,1156.2 331.8,1174.9 339.5,1188.8 347.2,1182.5 354.9,1184.7 362.7,1192.3 370.4,1201.4 378.1,1209.6 385.8,1199.4 393.5,1209.9 401.2,1153.1 409.0,1149.3 416.7,1125.9 424.4,1159.4 432.1,1130.2 439.8,1125.2 447.5,1136.1 455.3,1176.6 463.0,1176.6 470.7,1184.4 478.4,1169.0 486.1,1181.1 493.8,1186.7 501.6,1178.1 509.3,1169.8 517.0,1203.2 524.7,1195.1 532.4,1192.6 540.1,1200.4 547.8,1196.7 555.6,1209.2 563.3,1217.0 571.0,1239.2 578.7,1227.8 586.4,1225.4 594.1,1220.7 601.9,1204.2 609.6,1217.4 617.3,1241.9 625.0,1220.3 632.7,1214.0 640.4,1191.0 648.2,1177.1 655.9,1182.2 663.6,1192.3 671.3,1213.5 679.0,1222.7 686.7,1224.3 694.5,1216.1 702.2,1193.2 709.9,1214.9 717.6,1210.5 725.3,1211.5 733.0,1225.4 740.8,1238.1 748.5,1248.2 756.2,1202.6 763.9,1193.3 771.6,1195.3 779.3,1217.4 787.1,1206.1 794.8,1191.0 802.5,1187.1 810.2,1180.1 817.9,1199.1 825.6,1181.5 833.4,1174.9 841.1,1189.0 848.8,1189.7 856.5,1172.4 864.2,1173.1 871.9,1160.9 879.6,1138.0 887.4,1112.9 895.1,1090.3 902.8,1089.4 910.5,1080.2 918.2,1070.5 925.9,1084.9 933.7,1075.1 941.4,1052.5 949.1,1070.1 956.8,1069.5 964.5,1067.9 972.2,1062.9 980.0,1062.8 987.7,1149.2 995.4,1155.7 1003.1,1155.5 1010.8,1152.5 1018.5,1143.3 1026.3,1166.7 1034.0,1165.4 1041.7,1173.4 1049.4,1187.4 1057.1,1198.5 1064.8,1228.7 1072.6,1197.3 1080.3,1179.1 1088.0,1196.7 1095.7,1192.1 1103.4,1151.7 1111.1,1157.4 1118.9,1166.7 1126.6,1173.5 1134.3,1182.7 1142.0,1164.3 1149.7,1163.2 1157.4,1195.2 1165.2,1195.2 1172.9,1191.0 1180.6,1194.4 1188.3,1198.6 1196.0,1229.5 1203.7,1212.5 1211.5,1226.6 1219.2,1190.4 1226.9,1194.4 1234.6,1198.0 1242.3,1221.5 1250.0,1197.4 1257.7,1203.6 1265.5,1203.7 1273.2,1224.6 1280.9,1224.6 1288.6,1230.3 1296.3,1232.8 1304.0,1212.0 1311.8,1214.9 1319.5,1222.9 1327.2,1218.6 1334.9,1218.4 1342.6,1204.1 1350.3,1184.1 1358.1,1189.7 1365.8,1181.1 1373.5,1170.0 1381.2,1157.4 1388.9,1155.0 1396.6,1180.4 1404.4,1187.9 1412.1,1178.2 1419.8,1167.9 1427.5,1172.0 1435.2,1194.5 1442.9,1198.3 1450.7,1197.9 1458.4,1228.1 1466.1,1232.6 1473.8,1204.1 1481.5,1240.6 1489.2,1228.9 1497.0,1223.7 1504.7,1207.7 1512.4,1204.6 1520.1,1213.6 1527.8,1187.0 1535.5,1168.1 1543.3,1166.6 1551.0,1186.7 1558.7,1185.1 1566.4,1182.0 1574.1,1215.2 1581.8,1208.2 1589.5,1225.2 1597.3,1282.5 1605.0,1279.3 1612.7,1246.2 1620.4,1229.5 1628.1,1242.9 1635.8,1254.0 1643.6,1262.4 1651.3,1266.3 1659.0,1250.7 1666.7,1244.0 1674.4,1221.0 1682.1,1232.3 1689.9,1240.2 1697.6,1232.9 1705.3,1208.9 1713.0,1193.8 1720.7,1184.4 1728.4,1189.8 1728.4,1120" fill="url(#gob)" clip-path="url(#c70)"/>
<polyline points="15.4,1207.0 23.1,1206.3 30.9,1205.6 38.6,1204.7 46.3,1202.2 54.0,1199.2 61.7,1196.7 69.4,1195.4 77.2,1194.7 84.9,1196.7 92.6,1199.2 100.3,1201.5 108.0,1203.9 115.7,1205.7 123.5,1209.8 131.2,1213.1 138.9,1214.9 146.6,1216.4 154.3,1220.9 162.0,1225.8 169.7,1231.5 177.5,1232.2 185.2,1233.8 192.9,1233.2 200.6,1230.3 208.3,1228.0 216.0,1225.0 223.8,1223.4 231.5,1220.6 239.2,1218.7 246.9,1217.8 254.6,1216.7 262.3,1213.5 270.1,1209.8 277.8,1203.4 285.5,1200.5 293.2,1197.2 300.9,1195.1 308.6,1194.2 316.4,1191.9 324.1,1189.0 331.8,1186.9 339.5,1185.7 347.2,1183.9 354.9,1182.3 362.7,1181.6 370.4,1181.3 378.1,1181.9 385.8,1183.7 393.5,1186.4 401.2,1184.6 409.0,1182.1 416.7,1178.2 424.4,1177.7 432.1,1175.8 439.8,1172.3 447.5,1168.5 455.3,1168.1 463.0,1167.5 470.7,1166.9 478.4,1164.6 486.1,1162.6 493.8,1161.7 501.6,1159.4 509.3,1160.6 517.0,1164.5 524.7,1169.4 532.4,1171.8 540.1,1176.8 547.8,1181.9 555.6,1187.1 563.3,1190.0 571.0,1194.5 578.7,1197.6 586.4,1201.6 594.1,1204.4 601.9,1205.7 609.6,1208.5 617.3,1213.6 625.0,1214.8 632.7,1216.2 640.4,1216.1 648.2,1214.4 655.9,1213.4 663.6,1212.2 671.3,1211.9 679.0,1210.7 686.7,1210.5 694.5,1209.8 702.2,1207.9 709.9,1208.6 717.6,1208.1 725.3,1206.0 733.0,1206.3 740.8,1208.1 748.5,1212.2 756.2,1214.0 763.9,1214.8 771.6,1215.0 779.3,1215.3 787.1,1214.1 794.8,1211.7 802.5,1209.6 810.2,1208.7 817.9,1207.5 825.6,1205.5 833.4,1202.9 841.1,1200.3 848.8,1196.8 856.5,1191.4 864.2,1189.3 871.9,1187.0 879.6,1182.9 887.4,1175.4 895.1,1167.2 902.8,1159.9 910.5,1152.3 918.2,1144.4 925.9,1136.3 933.7,1128.7 941.4,1119.9 949.1,1111.4 956.8,1102.8 964.5,1095.4 972.2,1087.5 980.0,1080.5 987.7,1081.3 995.4,1084.3 1003.1,1089.0 1010.8,1093.5 1018.5,1098.0 1026.3,1104.9 1034.0,1110.6 1041.7,1117.7 1049.4,1127.3 1057.1,1136.5 1064.8,1147.8 1072.6,1157.1 1080.3,1165.4 1088.0,1175.0 1095.7,1178.0 1103.4,1177.7 1111.1,1177.9 1118.9,1178.9 1126.6,1181.0 1134.3,1182.2 1142.0,1182.1 1149.7,1181.4 1157.4,1181.9 1165.2,1181.7 1172.9,1179.0 1180.6,1178.8 1188.3,1180.2 1196.0,1182.5 1203.7,1184.0 1211.5,1189.3 1219.2,1191.7 1226.9,1193.7 1234.6,1195.4 1242.3,1198.2 1250.0,1200.6 1257.7,1203.4 1265.5,1204.1 1273.2,1206.2 1280.9,1208.6 1288.6,1211.1 1296.3,1213.6 1304.0,1212.3 1311.8,1212.5 1319.5,1212.2 1327.2,1214.2 1334.9,1215.9 1342.6,1216.4 1350.3,1213.7 1358.1,1213.2 1365.8,1211.5 1373.5,1209.1 1381.2,1204.3 1388.9,1199.4 1396.6,1195.8 1404.4,1192.6 1412.1,1190.2 1419.8,1186.8 1427.5,1183.2 1435.2,1181.5 1442.9,1180.0 1450.7,1179.6 1458.4,1182.8 1466.1,1185.8 1473.8,1187.5 1481.5,1192.5 1489.2,1197.6 1497.0,1202.5 1504.7,1204.5 1512.4,1205.7 1520.1,1208.2 1527.8,1209.6 1535.5,1209.3 1543.3,1207.3 1551.0,1206.4 1558.7,1205.5 1566.4,1202.2 1574.1,1201.0 1581.8,1201.3 1589.5,1200.2 1597.3,1204.0 1605.0,1208.0 1612.7,1210.7 1620.4,1212.5 1628.1,1214.6 1635.8,1219.4 1643.6,1226.1 1651.3,1233.3 1659.0,1237.8 1666.7,1242.0 1674.4,1244.8 1682.1,1246.0 1689.9,1248.3 1697.6,1248.9 1705.3,1243.6 1713.0,1237.5 1720.7,1233.1 1728.4,1230.3" fill="none" stroke="#f7d33e" stroke-width="1.7" stroke-linejoin="round" stroke-linecap="round"/>
<polyline points="15.4,1174.4 23.1,1188.4 30.9,1194.5 38.6,1196.1 46.3,1186.3 54.0,1184.6 61.7,1185.2 69.4,1201.7 77.2,1202.6 84.9,1223.0 92.6,1232.9 100.3,1231.4 108.0,1238.7 115.7,1227.3 123.5,1244.4 131.2,1234.3 138.9,1220.4 146.6,1217.0 154.3,1249.8 162.0,1252.5 169.7,1264.5 177.5,1212.6 185.2,1224.6 192.9,1214.0 200.6,1192.6 208.3,1198.8 216.0,1197.1 223.8,1204.9 231.5,1204.9 239.2,1207.8 246.9,1207.8 254.6,1202.2 262.3,1204.5 270.1,1201.4 277.8,1174.1 285.5,1171.8 293.2,1178.7 300.9,1184.4 308.6,1180.8 316.4,1166.7 324.1,1156.2 331.8,1174.9 339.5,1188.8 347.2,1182.5 354.9,1184.7 362.7,1192.3 370.4,1201.4 378.1,1209.6 385.8,1199.4 393.5,1209.9 401.2,1153.1 409.0,1149.3 416.7,1125.9 424.4,1159.4 432.1,1130.2 439.8,1125.2 447.5,1136.1 455.3,1176.6 463.0,1176.6 470.7,1184.4 478.4,1169.0 486.1,1181.1 493.8,1186.7 501.6,1178.1 509.3,1169.8 517.0,1203.2 524.7,1195.1 532.4,1192.6 540.1,1200.4 547.8,1196.7 555.6,1209.2 563.3,1217.0 571.0,1239.2 578.7,1227.8 586.4,1225.4 594.1,1220.7 601.9,1204.2 609.6,1217.4 617.3,1241.9 625.0,1220.3 632.7,1214.0 640.4,1191.0 648.2,1177.1 655.9,1182.2 663.6,1192.3 671.3,1213.5 679.0,1222.7 686.7,1224.3 694.5,1216.1 702.2,1193.2 709.9,1214.9 717.6,1210.5 725.3,1211.5 733.0,1225.4 740.8,1238.1 748.5,1248.2 756.2,1202.6 763.9,1193.3 771.6,1195.3 779.3,1217.4 787.1,1206.1 794.8,1191.0 802.5,1187.1 810.2,1180.1 817.9,1199.1 825.6,1181.5 833.4,1174.9 841.1,1189.0 848.8,1189.7 856.5,1172.4 864.2,1173.1 871.9,1160.9 879.6,1138.0 887.4,1112.9 895.1,1090.3 902.8,1089.4 910.5,1080.2 918.2,1070.5 925.9,1084.9 933.7,1075.1 941.4,1052.5 949.1,1070.1 956.8,1069.5 964.5,1067.9 972.2,1062.9 980.0,1062.8 987.7,1149.2 995.4,1155.7 1003.1,1155.5 1010.8,1152.5 1018.5,1143.3 1026.3,1166.7 1034.0,1165.4 1041.7,1173.4 1049.4,1187.4 1057.1,1198.5 1064.8,1228.7 1072.6,1197.3 1080.3,1179.1 1088.0,1196.7 1095.7,1192.1 1103.4,1151.7 1111.1,1157.4 1118.9,1166.7 1126.6,1173.5 1134.3,1182.7 1142.0,1164.3 1149.7,1163.2 1157.4,1195.2 1165.2,1195.2 1172.9,1191.0 1180.6,1194.4 1188.3,1198.6 1196.0,1229.5 1203.7,1212.5 1211.5,1226.6 1219.2,1190.4 1226.9,1194.4 1234.6,1198.0 1242.3,1221.5 1250.0,1197.4 1257.7,1203.6 1265.5,1203.7 1273.2,1224.6 1280.9,1224.6 1288.6,1230.3 1296.3,1232.8 1304.0,1212.0 1311.8,1214.9 1319.5,1222.9 1327.2,1218.6 1334.9,1218.4 1342.6,1204.1 1350.3,1184.1 1358.1,1189.7 1365.8,1181.1 1373.5,1170.0 1381.2,1157.4 1388.9,1155.0 1396.6,1180.4 1404.4,1187.9 1412.1,1178.2 1419.8,1167.9 1427.5,1172.0 1435.2,1194.5 1442.9,1198.3 1450.7,1197.9 1458.4,1228.1 1466.1,1232.6 1473.8,1204.1 1481.5,1240.6 1489.2,1228.9 1497.0,1223.7 1504.7,1207.7 1512.4,1204.6 1520.1,1213.6 1527.8,1187.0 1535.5,1168.1 1543.3,1166.6 1551.0,1186.7 1558.7,1185.1 1566.4,1182.0 1574.1,1215.2 1581.8,1208.2 1589.5,1225.2 1597.3,1282.5 1605.0,1279.3 1612.7,1246.2 1620.4,1229.5 1628.1,1242.9 1635.8,1254.0 1643.6,1262.4 1651.3,1266.3 1659.0,1250.7 1666.7,1244.0 1674.4,1221.0 1682.1,1232.3 1689.9,1240.2 1697.6,1232.9 1705.3,1208.9 1713.0,1193.8 1720.7,1184.4 1728.4,1189.8" fill="none" stroke="#7e57c2" stroke-width="1.6" stroke-linejoin="round" stroke-linecap="round"/>
</g>
<line x1="2015" y1="55" x2="2015" y2="1363" stroke="#e0e3eb" stroke-width="2"/>
<line x1="21" y1="832" x2="2157" y2="832" stroke="#e0e3eb" stroke-width="2"/>
<line x1="21" y1="1022" x2="2157" y2="1022" stroke="#e0e3eb" stroke-width="2"/>
<line x1="21" y1="1309" x2="2157" y2="1309" stroke="#e0e3eb" stroke-width="2"/>
<text y="40.0" font-size="24"><tspan x="19.9" textLength="175.3" lengthAdjust="spacingAndGlyphs" fill="#000" stroke="#000" stroke-width="0.45">CryptoFXStreet</tspan> <tspan x="202.7" textLength="85.1" lengthAdjust="spacingAndGlyphs" fill="#000" stroke="#000" stroke-width="0.45">created</tspan> <tspan x="295.7" textLength="45.8" lengthAdjust="spacingAndGlyphs" fill="#000" stroke="#000" stroke-width="0.45">with</tspan> <tspan x="349.4" textLength="198.9" lengthAdjust="spacingAndGlyphs" fill="#000" stroke="#000" stroke-width="0.45">TradingView.com,</tspan> <tspan x="556.2" textLength="40.3" lengthAdjust="spacingAndGlyphs" fill="#000" stroke="#000" stroke-width="0.45">Oct</tspan> <tspan x="604.8" textLength="30.3" lengthAdjust="spacingAndGlyphs" fill="#000" stroke="#000" stroke-width="0.45">27,</tspan> <tspan x="644.0" textLength="57.2" lengthAdjust="spacingAndGlyphs" fill="#000" stroke="#000" stroke-width="0.45">2025</tspan> <tspan x="710.8" textLength="59.6" lengthAdjust="spacingAndGlyphs" fill="#000" stroke="#000" stroke-width="0.45">13:47</tspan> <tspan x="779.0" textLength="48.3" lengthAdjust="spacingAndGlyphs" fill="#000" stroke="#000" stroke-width="0.45">UTC</tspan></text>
<text y="93.8" font-size="24.5"><tspan x="36.4" textLength="46.3" lengthAdjust="spacingAndGlyphs" fill="#131722" stroke="#131722" stroke-width="0.45">XRP</tspan> <tspan x="91.8" fill="#131722" stroke="#131722" stroke-width="0.45">/</tspan> <tspan x="104.7" textLength="104.3" lengthAdjust="spacingAndGlyphs" fill="#131722" stroke="#131722" stroke-width="0.45">TetherUS</tspan> <tspan x="215.6" fill="#131722" stroke="#131722" stroke-width="0.45">·</tspan> <tspan x="229.7" textLength="27.8" lengthAdjust="spacingAndGlyphs" fill="#131722" stroke="#131722" stroke-width="0.45">1D</tspan> <tspan x="264.5" fill="#131722" stroke="#131722" stroke-width="0.45">·</tspan> <tspan x="280.4" textLength="88.0" lengthAdjust="spacingAndGlyphs" fill="#131722" stroke="#131722" stroke-width="0.45">Binance</tspan> <tspan x="382.8" textLength="18.0" lengthAdjust="spacingAndGlyphs" fill="#131722" stroke="#131722" stroke-width="0.45">O</tspan> <tspan x="402.2" textLength="79.4" lengthAdjust="spacingAndGlyphs" fill="#ef5350" stroke="#ef5350" stroke-width="0.45">2.6460</tspan> <tspan x="496.7" textLength="17.4" lengthAdjust="spacingAndGlyphs" fill="#131722" stroke="#131722" stroke-width="0.45">H</tspan> <tspan x="514.2" textLength="77.4" lengthAdjust="spacingAndGlyphs" fill="#ef5350" stroke="#ef5350" stroke-width="0.45">2.6749</tspan> <tspan x="606.2" textLength="13.4" lengthAdjust="spacingAndGlyphs" fill="#131722" stroke="#131722" stroke-width="0.45">L</tspan> <tspan x="619.2" textLength="77.4" lengthAdjust="spacingAndGlyphs" fill="#ef5350" stroke="#ef5350" stroke-width="0.45">2.6051</tspan> <tspan x="710.2" textLength="16.4" lengthAdjust="spacingAndGlyphs" fill="#131722" stroke="#131722" stroke-width="0.45">C</tspan> <tspan x="726.2" textLength="76.4" lengthAdjust="spacingAndGlyphs" fill="#ef5350" stroke="#ef5350" stroke-width="0.45">2.6165</tspan> <tspan x="817.2" textLength="199.4" lengthAdjust="spacingAndGlyphs" fill="#ef5350" stroke="#ef5350" stroke-width="0.45">−0.0296 (−1.12%)</tspan></text>
<text y="127.7" font-size="24.5"><tspan x="36.4" textLength="33.8" lengthAdjust="spacingAndGlyphs" fill="#131722" stroke="#131722" stroke-width="0.45">Vol</tspan> <tspan x="77.6" fill="#131722" stroke="#131722" stroke-width="0.45">·</tspan> <tspan x="91.9" textLength="46.6" lengthAdjust="spacingAndGlyphs" fill="#131722" stroke="#131722" stroke-width="0.45">XRP</tspan> <tspan x="152.5" textLength="63.1" lengthAdjust="spacingAndGlyphs" fill="#ef5350" stroke="#ef5350" stroke-width="0.45">60.32</tspan> <tspan x="221.5" textLength="20.1" lengthAdjust="spacingAndGlyphs" fill="#ef5350" stroke="#ef5350" stroke-width="0.45">M</tspan></text>
<text y="161.7" font-size="24.5"><tspan x="36.4" textLength="50.3" lengthAdjust="spacingAndGlyphs" fill="#131722" stroke="#131722" stroke-width="0.45">EMA</tspan> <tspan x="95.2" textLength="43.3" lengthAdjust="spacingAndGlyphs" fill="#131722" stroke="#131722" stroke-width="0.45">(50,</tspan> <tspan x="146.6" textLength="65.3" lengthAdjust="spacingAndGlyphs" fill="#131722" stroke="#131722" stroke-width="0.45">close,</tspan> <tspan x="219.8" textLength="46.5" lengthAdjust="spacingAndGlyphs" fill="#131722" stroke="#131722" stroke-width="0.45">100,</tspan> <tspan x="274.8" textLength="65.4" lengthAdjust="spacingAndGlyphs" fill="#131722" stroke="#131722" stroke-width="0.45">close,</tspan> <tspan x="348.0" textLength="47.3" lengthAdjust="spacingAndGlyphs" fill="#131722" stroke="#131722" stroke-width="0.45">200,</tspan> <tspan x="406.0" textLength="66.4" lengthAdjust="spacingAndGlyphs" fill="#131722" stroke="#131722" stroke-width="0.45">close)</tspan> <tspan x="489.2" textLength="77.9" lengthAdjust="spacingAndGlyphs" fill="#fb2a2c" stroke="#fb2a2c" stroke-width="0.45">2.6897</tspan> <tspan x="581.2" textLength="78.9" lengthAdjust="spacingAndGlyphs" fill="#2962ff" stroke="#2962ff" stroke-width="0.45">2.7348</tspan> <tspan x="675.2" textLength="75.9" lengthAdjust="spacingAndGlyphs" fill="#9c27b0" stroke="#9c27b0" stroke-width="0.45">2.6109</tspan></text>
<text y="873.0" font-size="24.5"><tspan x="36.3" textLength="69.7" lengthAdjust="spacingAndGlyphs" fill="#131722" stroke="#131722" stroke-width="0.45">MACD</tspan> <tspan x="115.6" textLength="40.0" lengthAdjust="spacingAndGlyphs" fill="#131722" stroke="#131722" stroke-width="0.45">(12,</tspan> <tspan x="162.5" textLength="34.4" lengthAdjust="spacingAndGlyphs" fill="#131722" stroke="#131722" stroke-width="0.45">26,</tspan> <tspan x="205.2" textLength="66.6" lengthAdjust="spacingAndGlyphs" fill="#131722" stroke="#131722" stroke-width="0.45">close)</tspan> <tspan x="288.6" textLength="79.1" lengthAdjust="spacingAndGlyphs" fill="#26a69a" stroke="#26a69a" stroke-width="0.45">0.0393</tspan> <tspan x="382.3" textLength="94.2" lengthAdjust="spacingAndGlyphs" fill="#2962ff" stroke="#2962ff" stroke-width="0.45">−0.0629</tspan> <tspan x="491.7" textLength="89.5" lengthAdjust="spacingAndGlyphs" fill="#f23645" stroke="#f23645" stroke-width="0.45">−0.1022</tspan></text>
<text y="1063.0" font-size="24.5"><tspan x="36.7" textLength="36.4" lengthAdjust="spacingAndGlyphs" fill="#131722" stroke="#131722" stroke-width="0.45">RSI</tspan> <tspan x="81.9" textLength="39.4" lengthAdjust="spacingAndGlyphs" fill="#131722" stroke="#131722" stroke-width="0.45">(14,</tspan> <tspan x="128.7" textLength="67.5" lengthAdjust="spacingAndGlyphs" fill="#131722" stroke="#131722" stroke-width="0.45">close)</tspan> <tspan x="211.3" textLength="60.9" lengthAdjust="spacingAndGlyphs" fill="#7e57c2" stroke="#7e57c2" stroke-width="0.45">51.25</tspan> <tspan x="286.5" textLength="66.2" lengthAdjust="spacingAndGlyphs" fill="#f7d33e" stroke="#f7d33e" stroke-width="0.45">40.44</tspan></text>
<text x="2033.0" y="176.6" font-size="24.5" fill="#131722" stroke="#131722" stroke-width="0.45" font-weight="normal" text-anchor="start" textLength="80.0" lengthAdjust="spacingAndGlyphs">3.5000</text>
<text x="2033.0" y="571.3" font-size="24.5" fill="#131722" stroke="#131722" stroke-width="0.45" font-weight="normal" text-anchor="start" textLength="80.0" lengthAdjust="spacingAndGlyphs">2.0000</text>
<text x="2033.0" y="703.3" font-size="24.5" fill="#131722" stroke="#131722" stroke-width="0.45" font-weight="normal" text-anchor="start" textLength="80.0" lengthAdjust="spacingAndGlyphs">1.5000</text>
<text x="2033.0" y="902.8" font-size="24.5" fill="#131722" stroke="#131722" stroke-width="0.45" font-weight="normal" text-anchor="start" textLength="80.0" lengthAdjust="spacingAndGlyphs">0.2000</text>
<text x="2033.0" y="1091.8" font-size="24.5" fill="#131722" stroke="#131722" stroke-width="0.45" font-weight="normal" text-anchor="start" textLength="65.0" lengthAdjust="spacingAndGlyphs">80.00</text>
<text x="2033.0" y="1165.3" font-size="24.5" fill="#131722" stroke="#131722" stroke-width="0.45" font-weight="normal" text-anchor="start" textLength="65.0" lengthAdjust="spacingAndGlyphs">60.00</text>
<rect x="2022.4" y="62" width="127" height="52" rx="8.5" fill="#fff" stroke="#f0f1f4" stroke-width="2"/>
<text x="2040.4" y="95.9" font-size="24" fill="#131722" stroke="#131722" stroke-width="0.45" font-weight="normal" text-anchor="start" textLength="64.2" lengthAdjust="spacingAndGlyphs">USDT</text>
<g><path d="M2016,282 H2122 Q2126,282 2126,286 V312 Q2126,316 2122,316 H2016 Z" fill="#2962ff"/>
<text x="2033.0" y="307.3" font-size="24.5" fill="#fff" font-weight="normal" text-anchor="start" textLength="80.0" lengthAdjust="spacingAndGlyphs">2.7348</text>
</g>
<g><path d="M2016,316 H2122 Q2126,316 2126,320 V346 Q2126,350 2122,350 H2016 Z" fill="#000"/>
<text x="2033.0" y="341.3" font-size="24.5" fill="#fff" font-weight="normal" text-anchor="start" textLength="80.0" lengthAdjust="spacingAndGlyphs">2.7000</text>
</g>
<g><path d="M2016,350 H2122 Q2126,350 2126,354 V380 Q2126,384 2122,384 H2016 Z" fill="#fb2a2c"/>
<text x="2033.0" y="375.3" font-size="24.5" fill="#fff" font-weight="normal" text-anchor="start" textLength="80.0" lengthAdjust="spacingAndGlyphs">2.6897</text>
</g>
<path d="M2016,384 H2144 Q2148,384 2148,388 V441.5 Q2148,445.5 2144,445.5 H2016 Z" fill="#ef5350"/>
<text x="2033.0" y="409.5" font-size="24.5" fill="#fff" font-weight="normal" text-anchor="start" textLength="80.0" lengthAdjust="spacingAndGlyphs">2.6165</text>
<text x="2033.0" y="438.5" font-size="24.5" fill="#ffd8d6" font-weight="normal" text-anchor="start" textLength="102.0" lengthAdjust="spacingAndGlyphs">10:12:08</text>
<g><path d="M2016,446 H2122 Q2126,446 2126,450 V476 Q2126,480 2122,480 H2016 Z" fill="#9c27b0"/>
<text x="2033.0" y="471.3" font-size="24.5" fill="#fff" font-weight="normal" text-anchor="start" textLength="80.0" lengthAdjust="spacingAndGlyphs">2.6109</text>
</g>
<g><path d="M2016,497 H2122 Q2126,497 2126,501 V527 Q2126,531 2122,531 H2016 Z" fill="#000"/>
<text x="2033.0" y="522.3" font-size="24.5" fill="#fff" font-weight="normal" text-anchor="start" textLength="80.0" lengthAdjust="spacingAndGlyphs">2.1884</text>
</g>
<g><path d="M2016,573 H2122 Q2126,573 2126,577 V603 Q2126,607 2122,607 H2016 Z" fill="#000"/>
<text x="2033.0" y="598.3" font-size="24.5" fill="#fff" font-weight="normal" text-anchor="start" textLength="80.0" lengthAdjust="spacingAndGlyphs">1.9000</text>
</g>
<g><path d="M2016,648 H2122 Q2126,648 2126,652 V678 Q2126,682 2122,682 H2016 Z" fill="#000"/>
<text x="2033.0" y="673.3" font-size="24.5" fill="#fff" font-weight="normal" text-anchor="start" textLength="80.0" lengthAdjust="spacingAndGlyphs">1.6162</text>
</g>
<g><path d="M2016,743 H2122 Q2126,743 2126,747 V773 Q2126,777 2122,777 H2016 Z" fill="#000"/>
<text x="2033.0" y="768.3" font-size="24.5" fill="#fff" font-weight="normal" text-anchor="start" textLength="80.0" lengthAdjust="spacingAndGlyphs">1.2575</text>
</g>
<g><path d="M2016,797 H2130 Q2134,797 2134,801 V827 Q2134,831 2130,831 H2016 Z" fill="#ef5350"/>
<text x="2033.0" y="822.3" font-size="24.5" fill="#fff" font-weight="normal" text-anchor="start" textLength="90.5" lengthAdjust="spacingAndGlyphs">60.32 M</text>
</g>
<g><path d="M2016,927 H2122 Q2126,927 2126,931 V957 Q2126,961 2122,961 H2016 Z" fill="#26a69a"/>
<text x="2033.0" y="952.3" font-size="24.5" fill="#fff" font-weight="normal" text-anchor="start" textLength="80.0" lengthAdjust="spacingAndGlyphs">0.0393</text>
</g>
<g><path d="M2016,961 H2136 Q2140,961 2140,965 V991 Q2140,995 2136,995 H2016 Z" fill="#2962ff"/>
<text x="2033.0" y="986.3" font-size="24.5" fill="#fff" font-weight="normal" text-anchor="start" textLength="95.5" lengthAdjust="spacingAndGlyphs">−0.0629</text>
</g>
<g clip-path="url(#cax2)"><path d="M2016,995 H2136 Q2140,995 2140,999 V1025 Q2140,1029 2136,1029 H2016 Z" fill="#f23645"/>
<text x="2033.0" y="1020.3" font-size="24.5" fill="#fff" font-weight="normal" text-anchor="start" textLength="95.5" lengthAdjust="spacingAndGlyphs">−0.1022</text>
</g>
<g><path d="M2016,1173.5 H2106 Q2110,1173.5 2110,1177.5 V1203 Q2110,1207 2106,1207 H2016 Z" fill="#7e57c2"/>
<text x="2033.0" y="1198.5" font-size="24.5" fill="#fff" font-weight="normal" text-anchor="start" textLength="66.0" lengthAdjust="spacingAndGlyphs">51.25</text>
</g>
<g><path d="M2016,1214.5 H2106 Q2110,1214.5 2110,1218.5 V1243.5 Q2110,1247.5 2106,1247.5 H2016 Z" fill="#fdd835"/>
<text x="2033.0" y="1239.3" font-size="24.5" fill="#131722" stroke="#131722" stroke-width="0.45" font-weight="normal" text-anchor="start" textLength="66.0" lengthAdjust="spacingAndGlyphs">40.44</text>
</g>
<g clip-path="url(#ctime)">
<text x="115.7" y="1346.5" font-size="25" fill="#131722" font-weight="bold" text-anchor="middle">Apr</text>
<text x="347.2" y="1346.5" font-size="25" fill="#131722" font-weight="bold" text-anchor="middle">May</text>
<text x="586.4" y="1346.5" font-size="25" fill="#131722" font-weight="bold" text-anchor="middle">Jun</text>
<text x="817.9" y="1346.5" font-size="25" fill="#131722" font-weight="bold" text-anchor="middle">Jul</text>
<text x="1057.1" y="1346.5" font-size="25" fill="#131722" font-weight="bold" text-anchor="middle">Aug</text>
<text x="1296.3" y="1346.5" font-size="25" fill="#131722" font-weight="bold" text-anchor="middle">Sep</text>
<text x="1527.8" y="1346.5" font-size="25" fill="#131722" font-weight="bold" text-anchor="middle">Oct</text>
<text x="1767.0" y="1346.5" font-size="25" fill="#131722" font-weight="bold" text-anchor="middle">Nov</text>
<text x="1998.5" y="1346.5" font-size="25" fill="#131722" font-weight="bold" text-anchor="middle">Dec</text>
</g>
<g fill="#141518"><path d="M24,1408.3 H47.8 V1437.5 H36 V1420 H24 Z"/><circle cx="57.9" cy="1413.6" r="6.2"/><path d="M68.9,1408.3 H83.7 L72,1437.5 H58.4 Z"/></g>
<text y="1437.5" font-size="41.5" font-weight="bold" fill="#141518"><tspan x="97.2" textLength="146" lengthAdjust="spacingAndGlyphs">Trading</tspan><tspan x="239.5" textLength="101.5" lengthAdjust="spacingAndGlyphs">View</tspan></text></svg>
</body></html>
